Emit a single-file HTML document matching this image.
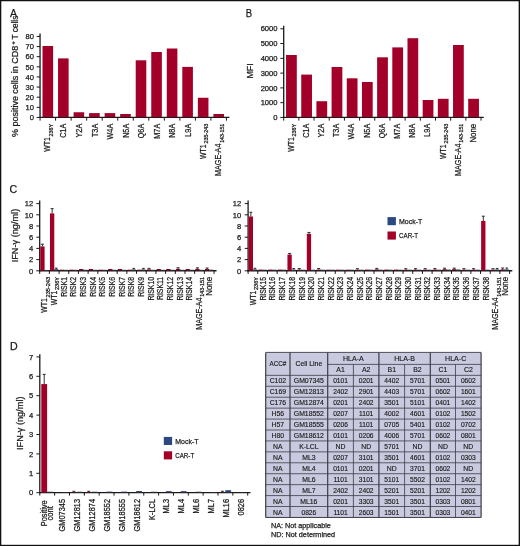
<!DOCTYPE html>
<html lang="en"><head><meta charset="utf-8"><title>Figure</title>
<style>
html,body{margin:0;padding:0;background:#fff;}
svg{display:block;font-family:"Liberation Sans",sans-serif;}
</style></head><body>
<svg width="520" height="546" viewBox="0 0 520 546">
<rect x="0" y="0" width="520" height="546" fill="#ffffff"/>
<rect x="0.00" y="0.00" width="520.00" height="1.25" fill="#111"/>
<rect x="0.00" y="0.00" width="1.30" height="546.00" fill="#111"/>
<rect x="518.65" y="0.00" width="1.35" height="546.00" fill="#111"/>
<rect x="0.00" y="544.80" width="520.00" height="1.20" fill="#111"/>
<text transform="translate(10.00,17.20)" font-size="11.2" text-anchor="start" textLength="7.10" lengthAdjust="spacingAndGlyphs" fill="#1a1a1a" stroke="#1a1a1a" stroke-width="0.25">A</text>
<line x1="40.05" y1="33.50" x2="40.05" y2="118.05" stroke="#1a1a1a" stroke-width="1.3"/>
<line x1="39.45" y1="117.45" x2="229.40" y2="117.45" stroke="#1a1a1a" stroke-width="1.2"/>
<line x1="36.65" y1="117.45" x2="40.05" y2="117.45" stroke="#1a1a1a" stroke-width="1.0"/>
<text transform="translate(33.90,120.15)" font-size="7.3" text-anchor="end" textLength="4.22" lengthAdjust="spacingAndGlyphs" fill="#1a1a1a" stroke="#1a1a1a" stroke-width="0.25">0</text>
<line x1="36.65" y1="107.33" x2="40.05" y2="107.33" stroke="#1a1a1a" stroke-width="1.0"/>
<text transform="translate(33.90,110.03)" font-size="7.3" text-anchor="end" textLength="8.44" lengthAdjust="spacingAndGlyphs" fill="#1a1a1a" stroke="#1a1a1a" stroke-width="0.25">10</text>
<line x1="36.65" y1="97.20" x2="40.05" y2="97.20" stroke="#1a1a1a" stroke-width="1.0"/>
<text transform="translate(33.90,99.90)" font-size="7.3" text-anchor="end" textLength="8.44" lengthAdjust="spacingAndGlyphs" fill="#1a1a1a" stroke="#1a1a1a" stroke-width="0.25">20</text>
<line x1="36.65" y1="87.08" x2="40.05" y2="87.08" stroke="#1a1a1a" stroke-width="1.0"/>
<text transform="translate(33.90,89.78)" font-size="7.3" text-anchor="end" textLength="8.44" lengthAdjust="spacingAndGlyphs" fill="#1a1a1a" stroke="#1a1a1a" stroke-width="0.25">30</text>
<line x1="36.65" y1="76.95" x2="40.05" y2="76.95" stroke="#1a1a1a" stroke-width="1.0"/>
<text transform="translate(33.90,79.65)" font-size="7.3" text-anchor="end" textLength="8.44" lengthAdjust="spacingAndGlyphs" fill="#1a1a1a" stroke="#1a1a1a" stroke-width="0.25">40</text>
<line x1="36.65" y1="66.83" x2="40.05" y2="66.83" stroke="#1a1a1a" stroke-width="1.0"/>
<text transform="translate(33.90,69.53)" font-size="7.3" text-anchor="end" textLength="8.44" lengthAdjust="spacingAndGlyphs" fill="#1a1a1a" stroke="#1a1a1a" stroke-width="0.25">50</text>
<line x1="36.65" y1="56.70" x2="40.05" y2="56.70" stroke="#1a1a1a" stroke-width="1.0"/>
<text transform="translate(33.90,59.40)" font-size="7.3" text-anchor="end" textLength="8.44" lengthAdjust="spacingAndGlyphs" fill="#1a1a1a" stroke="#1a1a1a" stroke-width="0.25">60</text>
<line x1="36.65" y1="46.58" x2="40.05" y2="46.58" stroke="#1a1a1a" stroke-width="1.0"/>
<text transform="translate(33.90,49.28)" font-size="7.3" text-anchor="end" textLength="8.44" lengthAdjust="spacingAndGlyphs" fill="#1a1a1a" stroke="#1a1a1a" stroke-width="0.25">70</text>
<line x1="36.65" y1="36.45" x2="40.05" y2="36.45" stroke="#1a1a1a" stroke-width="1.0"/>
<text transform="translate(33.90,39.15)" font-size="7.3" text-anchor="end" textLength="8.44" lengthAdjust="spacingAndGlyphs" fill="#1a1a1a" stroke="#1a1a1a" stroke-width="0.25">80</text>
<line x1="40.05" y1="117.45" x2="40.05" y2="120.65" stroke="#1a1a1a" stroke-width="1.0"/>
<line x1="55.58" y1="117.45" x2="55.58" y2="120.65" stroke="#1a1a1a" stroke-width="1.0"/>
<line x1="71.12" y1="117.45" x2="71.12" y2="120.65" stroke="#1a1a1a" stroke-width="1.0"/>
<line x1="86.66" y1="117.45" x2="86.66" y2="120.65" stroke="#1a1a1a" stroke-width="1.0"/>
<line x1="102.19" y1="117.45" x2="102.19" y2="120.65" stroke="#1a1a1a" stroke-width="1.0"/>
<line x1="117.72" y1="117.45" x2="117.72" y2="120.65" stroke="#1a1a1a" stroke-width="1.0"/>
<line x1="133.26" y1="117.45" x2="133.26" y2="120.65" stroke="#1a1a1a" stroke-width="1.0"/>
<line x1="148.80" y1="117.45" x2="148.80" y2="120.65" stroke="#1a1a1a" stroke-width="1.0"/>
<line x1="164.33" y1="117.45" x2="164.33" y2="120.65" stroke="#1a1a1a" stroke-width="1.0"/>
<line x1="179.87" y1="117.45" x2="179.87" y2="120.65" stroke="#1a1a1a" stroke-width="1.0"/>
<line x1="195.40" y1="117.45" x2="195.40" y2="120.65" stroke="#1a1a1a" stroke-width="1.0"/>
<line x1="210.94" y1="117.45" x2="210.94" y2="120.65" stroke="#1a1a1a" stroke-width="1.0"/>
<line x1="226.47" y1="117.45" x2="226.47" y2="120.65" stroke="#1a1a1a" stroke-width="1.0"/>
<rect x="42.50" y="46.00" width="10.60" height="71.05" fill="#a30029"/>
<text transform="translate(52.70,123.80) rotate(-90)" font-size="5.5" text-anchor="end" textLength="12.60" lengthAdjust="spacingAndGlyphs" fill="#1a1a1a" stroke="#1a1a1a" stroke-width="0.25">236Y</text>
<text transform="translate(50.40,137.20) rotate(-90)" font-size="8.6" text-anchor="end" textLength="14.52" lengthAdjust="spacingAndGlyphs" fill="#1a1a1a" stroke="#1a1a1a" stroke-width="0.25">WT1</text>
<rect x="58.03" y="58.40" width="10.60" height="58.65" fill="#a30029"/>
<text transform="translate(66.43,123.80) rotate(-90)" font-size="8.6" text-anchor="end" textLength="14.05" lengthAdjust="spacingAndGlyphs" fill="#1a1a1a" stroke="#1a1a1a" stroke-width="0.25">C1A</text>
<rect x="73.57" y="112.25" width="10.60" height="4.80" fill="#a30029"/>
<text transform="translate(81.97,123.80) rotate(-90)" font-size="8.6" text-anchor="end" textLength="13.65" lengthAdjust="spacingAndGlyphs" fill="#1a1a1a" stroke="#1a1a1a" stroke-width="0.25">Y2A</text>
<rect x="89.11" y="113.10" width="10.60" height="3.95" fill="#a30029"/>
<text transform="translate(97.50,123.80) rotate(-90)" font-size="8.6" text-anchor="end" textLength="13.25" lengthAdjust="spacingAndGlyphs" fill="#1a1a1a" stroke="#1a1a1a" stroke-width="0.25">T3A</text>
<rect x="104.64" y="113.10" width="10.60" height="3.95" fill="#a30029"/>
<text transform="translate(113.04,123.80) rotate(-90)" font-size="8.6" text-anchor="end" textLength="15.65" lengthAdjust="spacingAndGlyphs" fill="#1a1a1a" stroke="#1a1a1a" stroke-width="0.25">W4A</text>
<rect x="120.17" y="114.00" width="10.60" height="3.05" fill="#a30029"/>
<text transform="translate(128.57,123.80) rotate(-90)" font-size="8.6" text-anchor="end" textLength="14.05" lengthAdjust="spacingAndGlyphs" fill="#1a1a1a" stroke="#1a1a1a" stroke-width="0.25">N5A</text>
<rect x="135.71" y="60.30" width="10.60" height="56.75" fill="#a30029"/>
<text transform="translate(144.11,123.80) rotate(-90)" font-size="8.6" text-anchor="end" textLength="14.46" lengthAdjust="spacingAndGlyphs" fill="#1a1a1a" stroke="#1a1a1a" stroke-width="0.25">Q6A</text>
<rect x="151.25" y="52.00" width="10.60" height="65.05" fill="#a30029"/>
<text transform="translate(159.65,123.80) rotate(-90)" font-size="8.6" text-anchor="end" textLength="14.85" lengthAdjust="spacingAndGlyphs" fill="#1a1a1a" stroke="#1a1a1a" stroke-width="0.25">M7A</text>
<rect x="166.78" y="48.50" width="10.60" height="68.55" fill="#a30029"/>
<text transform="translate(175.18,123.80) rotate(-90)" font-size="8.6" text-anchor="end" textLength="14.05" lengthAdjust="spacingAndGlyphs" fill="#1a1a1a" stroke="#1a1a1a" stroke-width="0.25">N8A</text>
<rect x="182.31" y="66.90" width="10.60" height="50.15" fill="#a30029"/>
<text transform="translate(190.72,123.80) rotate(-90)" font-size="8.6" text-anchor="end" textLength="12.85" lengthAdjust="spacingAndGlyphs" fill="#1a1a1a" stroke="#1a1a1a" stroke-width="0.25">L9A</text>
<rect x="197.85" y="97.75" width="10.60" height="19.30" fill="#a30029"/>
<text transform="translate(208.05,123.80) rotate(-90)" font-size="5.5" text-anchor="end" textLength="19.80" lengthAdjust="spacingAndGlyphs" fill="#1a1a1a" stroke="#1a1a1a" stroke-width="0.25">235-243</text>
<text transform="translate(205.75,144.40) rotate(-90)" font-size="8.6" text-anchor="end" textLength="14.52" lengthAdjust="spacingAndGlyphs" fill="#1a1a1a" stroke="#1a1a1a" stroke-width="0.25">WT1</text>
<rect x="213.38" y="114.00" width="10.60" height="3.05" fill="#a30029"/>
<text transform="translate(223.59,123.80) rotate(-90)" font-size="5.5" text-anchor="end" textLength="19.00" lengthAdjust="spacingAndGlyphs" fill="#1a1a1a" stroke="#1a1a1a" stroke-width="0.25">143-151</text>
<text transform="translate(221.28,143.60) rotate(-90)" font-size="8.6" text-anchor="end" textLength="32.32" lengthAdjust="spacingAndGlyphs" fill="#1a1a1a" stroke="#1a1a1a" stroke-width="0.25">MAGE-A4</text>
<text transform="translate(18.10,137.00) rotate(-90)" font-size="8.7" text-anchor="start" textLength="91.20" lengthAdjust="spacingAndGlyphs" fill="#1a1a1a" stroke="#1a1a1a" stroke-width="0.25">% positive cells in CD8</text>
<text transform="translate(14.60,44.70) rotate(-90)" font-size="5.6" text-anchor="start" textLength="3.60" lengthAdjust="spacingAndGlyphs" fill="#1a1a1a" stroke="#1a1a1a" stroke-width="0.25">+</text>
<text transform="translate(18.10,39.40) rotate(-90)" font-size="8.7" text-anchor="start" textLength="23.70" lengthAdjust="spacingAndGlyphs" fill="#1a1a1a" stroke="#1a1a1a" stroke-width="0.25">T cells</text>
<text transform="translate(245.70,17.30)" font-size="11.2" text-anchor="start" textLength="6.35" lengthAdjust="spacingAndGlyphs" fill="#1a1a1a" stroke="#1a1a1a" stroke-width="0.25">B</text>
<line x1="283.70" y1="25.80" x2="283.70" y2="118.05" stroke="#1a1a1a" stroke-width="1.3"/>
<line x1="283.10" y1="117.45" x2="483.80" y2="117.45" stroke="#1a1a1a" stroke-width="1.2"/>
<line x1="280.30" y1="117.45" x2="283.70" y2="117.45" stroke="#1a1a1a" stroke-width="1.0"/>
<text transform="translate(277.50,120.15)" font-size="7.3" text-anchor="end" textLength="4.22" lengthAdjust="spacingAndGlyphs" fill="#1a1a1a" stroke="#1a1a1a" stroke-width="0.25">0</text>
<line x1="280.30" y1="102.67" x2="283.70" y2="102.67" stroke="#1a1a1a" stroke-width="1.0"/>
<text transform="translate(277.50,105.37)" font-size="7.3" text-anchor="end" textLength="16.89" lengthAdjust="spacingAndGlyphs" fill="#1a1a1a" stroke="#1a1a1a" stroke-width="0.25">1000</text>
<line x1="280.30" y1="87.89" x2="283.70" y2="87.89" stroke="#1a1a1a" stroke-width="1.0"/>
<text transform="translate(277.50,90.59)" font-size="7.3" text-anchor="end" textLength="16.89" lengthAdjust="spacingAndGlyphs" fill="#1a1a1a" stroke="#1a1a1a" stroke-width="0.25">2000</text>
<line x1="280.30" y1="73.11" x2="283.70" y2="73.11" stroke="#1a1a1a" stroke-width="1.0"/>
<text transform="translate(277.50,75.81)" font-size="7.3" text-anchor="end" textLength="16.89" lengthAdjust="spacingAndGlyphs" fill="#1a1a1a" stroke="#1a1a1a" stroke-width="0.25">3000</text>
<line x1="280.30" y1="58.33" x2="283.70" y2="58.33" stroke="#1a1a1a" stroke-width="1.0"/>
<text transform="translate(277.50,61.03)" font-size="7.3" text-anchor="end" textLength="16.89" lengthAdjust="spacingAndGlyphs" fill="#1a1a1a" stroke="#1a1a1a" stroke-width="0.25">4000</text>
<line x1="280.30" y1="43.55" x2="283.70" y2="43.55" stroke="#1a1a1a" stroke-width="1.0"/>
<text transform="translate(277.50,46.25)" font-size="7.3" text-anchor="end" textLength="16.89" lengthAdjust="spacingAndGlyphs" fill="#1a1a1a" stroke="#1a1a1a" stroke-width="0.25">5000</text>
<line x1="280.30" y1="28.77" x2="283.70" y2="28.77" stroke="#1a1a1a" stroke-width="1.0"/>
<text transform="translate(277.50,31.47)" font-size="7.3" text-anchor="end" textLength="16.89" lengthAdjust="spacingAndGlyphs" fill="#1a1a1a" stroke="#1a1a1a" stroke-width="0.25">6000</text>
<line x1="283.70" y1="117.45" x2="283.70" y2="120.65" stroke="#1a1a1a" stroke-width="1.0"/>
<line x1="298.88" y1="117.45" x2="298.88" y2="120.65" stroke="#1a1a1a" stroke-width="1.0"/>
<line x1="314.06" y1="117.45" x2="314.06" y2="120.65" stroke="#1a1a1a" stroke-width="1.0"/>
<line x1="329.24" y1="117.45" x2="329.24" y2="120.65" stroke="#1a1a1a" stroke-width="1.0"/>
<line x1="344.42" y1="117.45" x2="344.42" y2="120.65" stroke="#1a1a1a" stroke-width="1.0"/>
<line x1="359.60" y1="117.45" x2="359.60" y2="120.65" stroke="#1a1a1a" stroke-width="1.0"/>
<line x1="374.78" y1="117.45" x2="374.78" y2="120.65" stroke="#1a1a1a" stroke-width="1.0"/>
<line x1="389.96" y1="117.45" x2="389.96" y2="120.65" stroke="#1a1a1a" stroke-width="1.0"/>
<line x1="405.14" y1="117.45" x2="405.14" y2="120.65" stroke="#1a1a1a" stroke-width="1.0"/>
<line x1="420.32" y1="117.45" x2="420.32" y2="120.65" stroke="#1a1a1a" stroke-width="1.0"/>
<line x1="435.50" y1="117.45" x2="435.50" y2="120.65" stroke="#1a1a1a" stroke-width="1.0"/>
<line x1="450.68" y1="117.45" x2="450.68" y2="120.65" stroke="#1a1a1a" stroke-width="1.0"/>
<line x1="465.86" y1="117.45" x2="465.86" y2="120.65" stroke="#1a1a1a" stroke-width="1.0"/>
<line x1="481.04" y1="117.45" x2="481.04" y2="120.65" stroke="#1a1a1a" stroke-width="1.0"/>
<rect x="286.05" y="55.00" width="10.75" height="62.05" fill="#a30029"/>
<text transform="translate(296.05,123.80) rotate(-90)" font-size="5.5" text-anchor="end" textLength="12.60" lengthAdjust="spacingAndGlyphs" fill="#1a1a1a" stroke="#1a1a1a" stroke-width="0.25">236Y</text>
<text transform="translate(293.75,137.20) rotate(-90)" font-size="8.6" text-anchor="end" textLength="14.52" lengthAdjust="spacingAndGlyphs" fill="#1a1a1a" stroke="#1a1a1a" stroke-width="0.25">WT1</text>
<rect x="301.23" y="74.60" width="10.75" height="42.45" fill="#a30029"/>
<text transform="translate(308.93,123.80) rotate(-90)" font-size="8.6" text-anchor="end" textLength="14.05" lengthAdjust="spacingAndGlyphs" fill="#1a1a1a" stroke="#1a1a1a" stroke-width="0.25">C1A</text>
<rect x="316.41" y="101.20" width="10.75" height="15.85" fill="#a30029"/>
<text transform="translate(324.11,123.80) rotate(-90)" font-size="8.6" text-anchor="end" textLength="13.65" lengthAdjust="spacingAndGlyphs" fill="#1a1a1a" stroke="#1a1a1a" stroke-width="0.25">Y2A</text>
<rect x="331.59" y="67.00" width="10.75" height="50.05" fill="#a30029"/>
<text transform="translate(339.29,123.80) rotate(-90)" font-size="8.6" text-anchor="end" textLength="13.25" lengthAdjust="spacingAndGlyphs" fill="#1a1a1a" stroke="#1a1a1a" stroke-width="0.25">T3A</text>
<rect x="346.77" y="78.30" width="10.75" height="38.75" fill="#a30029"/>
<text transform="translate(354.47,123.80) rotate(-90)" font-size="8.6" text-anchor="end" textLength="15.65" lengthAdjust="spacingAndGlyphs" fill="#1a1a1a" stroke="#1a1a1a" stroke-width="0.25">W4A</text>
<rect x="361.95" y="82.00" width="10.75" height="35.05" fill="#a30029"/>
<text transform="translate(369.65,123.80) rotate(-90)" font-size="8.6" text-anchor="end" textLength="14.05" lengthAdjust="spacingAndGlyphs" fill="#1a1a1a" stroke="#1a1a1a" stroke-width="0.25">N5A</text>
<rect x="377.13" y="57.30" width="10.75" height="59.75" fill="#a30029"/>
<text transform="translate(384.83,123.80) rotate(-90)" font-size="8.6" text-anchor="end" textLength="14.46" lengthAdjust="spacingAndGlyphs" fill="#1a1a1a" stroke="#1a1a1a" stroke-width="0.25">Q6A</text>
<rect x="392.31" y="47.40" width="10.75" height="69.65" fill="#a30029"/>
<text transform="translate(400.01,123.80) rotate(-90)" font-size="8.6" text-anchor="end" textLength="14.85" lengthAdjust="spacingAndGlyphs" fill="#1a1a1a" stroke="#1a1a1a" stroke-width="0.25">M7A</text>
<rect x="407.49" y="38.20" width="10.75" height="78.85" fill="#a30029"/>
<text transform="translate(415.19,123.80) rotate(-90)" font-size="8.6" text-anchor="end" textLength="14.05" lengthAdjust="spacingAndGlyphs" fill="#1a1a1a" stroke="#1a1a1a" stroke-width="0.25">N8A</text>
<rect x="422.67" y="100.00" width="10.75" height="17.05" fill="#a30029"/>
<text transform="translate(430.37,123.80) rotate(-90)" font-size="8.6" text-anchor="end" textLength="12.85" lengthAdjust="spacingAndGlyphs" fill="#1a1a1a" stroke="#1a1a1a" stroke-width="0.25">L9A</text>
<rect x="437.85" y="98.80" width="10.75" height="18.25" fill="#a30029"/>
<text transform="translate(447.85,123.80) rotate(-90)" font-size="5.5" text-anchor="end" textLength="19.80" lengthAdjust="spacingAndGlyphs" fill="#1a1a1a" stroke="#1a1a1a" stroke-width="0.25">235-243</text>
<text transform="translate(445.55,144.40) rotate(-90)" font-size="8.6" text-anchor="end" textLength="14.52" lengthAdjust="spacingAndGlyphs" fill="#1a1a1a" stroke="#1a1a1a" stroke-width="0.25">WT1</text>
<rect x="453.03" y="45.00" width="10.75" height="72.05" fill="#a30029"/>
<text transform="translate(463.03,123.80) rotate(-90)" font-size="5.5" text-anchor="end" textLength="19.00" lengthAdjust="spacingAndGlyphs" fill="#1a1a1a" stroke="#1a1a1a" stroke-width="0.25">143-151</text>
<text transform="translate(460.73,143.60) rotate(-90)" font-size="8.6" text-anchor="end" textLength="32.32" lengthAdjust="spacingAndGlyphs" fill="#1a1a1a" stroke="#1a1a1a" stroke-width="0.25">MAGE-A4</text>
<rect x="468.21" y="98.80" width="10.75" height="18.25" fill="#a30029"/>
<text transform="translate(475.91,123.80) rotate(-90)" font-size="8.6" text-anchor="end" textLength="18.81" lengthAdjust="spacingAndGlyphs" fill="#1a1a1a" stroke="#1a1a1a" stroke-width="0.25">None</text>
<text transform="translate(253.40,71.00) rotate(-90)" font-size="8.7" text-anchor="middle" textLength="15.28" lengthAdjust="spacingAndGlyphs" fill="#1a1a1a" stroke="#1a1a1a" stroke-width="0.25">MFI</text>
<text transform="translate(9.40,193.20)" font-size="11.2" text-anchor="start" textLength="7.68" lengthAdjust="spacingAndGlyphs" fill="#1a1a1a" stroke="#1a1a1a" stroke-width="0.25">C</text>
<line x1="39.70" y1="200.50" x2="39.70" y2="271.40" stroke="#1a1a1a" stroke-width="1.3"/>
<line x1="39.10" y1="270.75" x2="216.50" y2="270.75" stroke="#1a1a1a" stroke-width="1.5"/>
<line x1="36.30" y1="270.80" x2="39.70" y2="270.80" stroke="#1a1a1a" stroke-width="1.0"/>
<text transform="translate(33.20,273.50)" font-size="7.3" text-anchor="end" textLength="4.22" lengthAdjust="spacingAndGlyphs" fill="#1a1a1a" stroke="#1a1a1a" stroke-width="0.25">0</text>
<line x1="36.30" y1="259.60" x2="39.70" y2="259.60" stroke="#1a1a1a" stroke-width="1.0"/>
<text transform="translate(33.20,262.30)" font-size="7.3" text-anchor="end" textLength="4.22" lengthAdjust="spacingAndGlyphs" fill="#1a1a1a" stroke="#1a1a1a" stroke-width="0.25">2</text>
<line x1="36.30" y1="248.40" x2="39.70" y2="248.40" stroke="#1a1a1a" stroke-width="1.0"/>
<text transform="translate(33.20,251.10)" font-size="7.3" text-anchor="end" textLength="4.22" lengthAdjust="spacingAndGlyphs" fill="#1a1a1a" stroke="#1a1a1a" stroke-width="0.25">4</text>
<line x1="36.30" y1="237.20" x2="39.70" y2="237.20" stroke="#1a1a1a" stroke-width="1.0"/>
<text transform="translate(33.20,239.90)" font-size="7.3" text-anchor="end" textLength="4.22" lengthAdjust="spacingAndGlyphs" fill="#1a1a1a" stroke="#1a1a1a" stroke-width="0.25">6</text>
<line x1="36.30" y1="226.00" x2="39.70" y2="226.00" stroke="#1a1a1a" stroke-width="1.0"/>
<text transform="translate(33.20,228.70)" font-size="7.3" text-anchor="end" textLength="4.22" lengthAdjust="spacingAndGlyphs" fill="#1a1a1a" stroke="#1a1a1a" stroke-width="0.25">8</text>
<line x1="36.30" y1="214.80" x2="39.70" y2="214.80" stroke="#1a1a1a" stroke-width="1.0"/>
<text transform="translate(33.20,217.50)" font-size="7.3" text-anchor="end" textLength="8.44" lengthAdjust="spacingAndGlyphs" fill="#1a1a1a" stroke="#1a1a1a" stroke-width="0.25">10</text>
<line x1="36.30" y1="203.60" x2="39.70" y2="203.60" stroke="#1a1a1a" stroke-width="1.0"/>
<text transform="translate(33.20,206.30)" font-size="7.3" text-anchor="end" textLength="8.44" lengthAdjust="spacingAndGlyphs" fill="#1a1a1a" stroke="#1a1a1a" stroke-width="0.25">12</text>
<line x1="39.70" y1="270.80" x2="39.70" y2="273.90" stroke="#1a1a1a" stroke-width="1.0"/>
<line x1="49.39" y1="270.80" x2="49.39" y2="273.90" stroke="#1a1a1a" stroke-width="1.0"/>
<line x1="59.07" y1="270.80" x2="59.07" y2="273.90" stroke="#1a1a1a" stroke-width="1.0"/>
<line x1="68.75" y1="270.80" x2="68.75" y2="273.90" stroke="#1a1a1a" stroke-width="1.0"/>
<line x1="78.44" y1="270.80" x2="78.44" y2="273.90" stroke="#1a1a1a" stroke-width="1.0"/>
<line x1="88.12" y1="270.80" x2="88.12" y2="273.90" stroke="#1a1a1a" stroke-width="1.0"/>
<line x1="97.81" y1="270.80" x2="97.81" y2="273.90" stroke="#1a1a1a" stroke-width="1.0"/>
<line x1="107.50" y1="270.80" x2="107.50" y2="273.90" stroke="#1a1a1a" stroke-width="1.0"/>
<line x1="117.18" y1="270.80" x2="117.18" y2="273.90" stroke="#1a1a1a" stroke-width="1.0"/>
<line x1="126.87" y1="270.80" x2="126.87" y2="273.90" stroke="#1a1a1a" stroke-width="1.0"/>
<line x1="136.55" y1="270.80" x2="136.55" y2="273.90" stroke="#1a1a1a" stroke-width="1.0"/>
<line x1="146.24" y1="270.80" x2="146.24" y2="273.90" stroke="#1a1a1a" stroke-width="1.0"/>
<line x1="155.92" y1="270.80" x2="155.92" y2="273.90" stroke="#1a1a1a" stroke-width="1.0"/>
<line x1="165.61" y1="270.80" x2="165.61" y2="273.90" stroke="#1a1a1a" stroke-width="1.0"/>
<line x1="175.29" y1="270.80" x2="175.29" y2="273.90" stroke="#1a1a1a" stroke-width="1.0"/>
<line x1="184.98" y1="270.80" x2="184.98" y2="273.90" stroke="#1a1a1a" stroke-width="1.0"/>
<line x1="194.66" y1="270.80" x2="194.66" y2="273.90" stroke="#1a1a1a" stroke-width="1.0"/>
<line x1="204.35" y1="270.80" x2="204.35" y2="273.90" stroke="#1a1a1a" stroke-width="1.0"/>
<line x1="214.03" y1="270.80" x2="214.03" y2="273.90" stroke="#1a1a1a" stroke-width="1.0"/>
<line x1="42.45" y1="244.20" x2="42.45" y2="246.44" stroke="#1a1a1a" stroke-width="0.9"/>
<line x1="40.95" y1="244.20" x2="43.95" y2="244.20" stroke="#1a1a1a" stroke-width="0.9"/>
<rect x="40.30" y="246.44" width="4.30" height="24.06" fill="#a30029"/>
<rect x="44.60" y="269.96" width="4.00" height="0.54" fill="#35425c"/>
<line x1="52.14" y1="208.64" x2="52.14" y2="213.40" stroke="#1a1a1a" stroke-width="0.9"/>
<line x1="50.64" y1="208.64" x2="53.64" y2="208.64" stroke="#1a1a1a" stroke-width="0.9"/>
<rect x="49.99" y="213.40" width="4.30" height="57.10" fill="#a30029"/>
<line x1="56.29" y1="268.11" x2="56.29" y2="269.12" stroke="#1a1a1a" stroke-width="0.9"/>
<line x1="54.99" y1="268.11" x2="57.59" y2="268.11" stroke="#1a1a1a" stroke-width="0.9"/>
<rect x="54.29" y="269.12" width="4.00" height="1.38" fill="#35425c"/>
<rect x="59.67" y="269.68" width="4.30" height="0.82" fill="#7d0a22"/>
<rect x="63.97" y="269.79" width="4.00" height="0.71" fill="#35425c"/>
<rect x="69.35" y="269.68" width="4.30" height="0.82" fill="#7d0a22"/>
<rect x="73.66" y="269.79" width="4.00" height="0.71" fill="#35425c"/>
<rect x="79.04" y="269.01" width="4.30" height="1.49" fill="#7d0a22"/>
<rect x="83.34" y="269.79" width="4.00" height="0.71" fill="#35425c"/>
<rect x="88.72" y="269.01" width="4.30" height="1.49" fill="#7d0a22"/>
<rect x="93.03" y="269.79" width="4.00" height="0.71" fill="#35425c"/>
<rect x="98.41" y="269.68" width="4.30" height="0.82" fill="#7d0a22"/>
<rect x="102.71" y="269.79" width="4.00" height="0.71" fill="#35425c"/>
<rect x="108.09" y="269.01" width="4.30" height="1.49" fill="#7d0a22"/>
<rect x="112.40" y="269.79" width="4.00" height="0.71" fill="#35425c"/>
<rect x="117.78" y="269.01" width="4.30" height="1.49" fill="#7d0a22"/>
<rect x="122.08" y="269.79" width="4.00" height="0.71" fill="#35425c"/>
<rect x="127.47" y="269.68" width="4.30" height="0.82" fill="#7d0a22"/>
<line x1="133.77" y1="268.39" x2="133.77" y2="269.40" stroke="#1a1a1a" stroke-width="0.9"/>
<line x1="132.47" y1="268.39" x2="135.07" y2="268.39" stroke="#1a1a1a" stroke-width="0.9"/>
<rect x="131.77" y="269.40" width="4.00" height="1.10" fill="#35425c"/>
<rect x="137.15" y="269.68" width="4.30" height="0.82" fill="#7d0a22"/>
<line x1="143.45" y1="268.39" x2="143.45" y2="269.40" stroke="#1a1a1a" stroke-width="0.9"/>
<line x1="142.15" y1="268.39" x2="144.75" y2="268.39" stroke="#1a1a1a" stroke-width="0.9"/>
<rect x="141.45" y="269.40" width="4.00" height="1.10" fill="#35425c"/>
<line x1="148.99" y1="268.39" x2="148.99" y2="269.40" stroke="#1a1a1a" stroke-width="0.9"/>
<line x1="147.49" y1="268.39" x2="150.49" y2="268.39" stroke="#1a1a1a" stroke-width="0.9"/>
<rect x="146.84" y="269.40" width="4.30" height="1.10" fill="#7d0a22"/>
<rect x="151.14" y="269.79" width="4.00" height="0.71" fill="#35425c"/>
<rect x="156.52" y="269.01" width="4.30" height="1.49" fill="#7d0a22"/>
<rect x="160.82" y="269.79" width="4.00" height="0.71" fill="#35425c"/>
<rect x="166.21" y="269.01" width="4.30" height="1.49" fill="#7d0a22"/>
<rect x="170.51" y="269.79" width="4.00" height="0.71" fill="#35425c"/>
<line x1="178.04" y1="267.72" x2="178.04" y2="268.84" stroke="#1a1a1a" stroke-width="0.9"/>
<line x1="176.54" y1="267.72" x2="179.54" y2="267.72" stroke="#1a1a1a" stroke-width="0.9"/>
<rect x="175.89" y="268.84" width="4.30" height="1.66" fill="#7d0a22"/>
<rect x="180.19" y="269.79" width="4.00" height="0.71" fill="#35425c"/>
<rect x="185.58" y="269.01" width="4.30" height="1.49" fill="#7d0a22"/>
<rect x="189.88" y="269.79" width="4.00" height="0.71" fill="#35425c"/>
<line x1="197.41" y1="267.83" x2="197.41" y2="268.84" stroke="#1a1a1a" stroke-width="0.9"/>
<line x1="195.91" y1="267.83" x2="198.91" y2="267.83" stroke="#1a1a1a" stroke-width="0.9"/>
<rect x="195.26" y="268.84" width="4.30" height="1.66" fill="#7d0a22"/>
<rect x="199.56" y="269.79" width="4.00" height="0.71" fill="#35425c"/>
<line x1="207.10" y1="268.00" x2="207.10" y2="269.01" stroke="#1a1a1a" stroke-width="0.9"/>
<line x1="205.60" y1="268.00" x2="208.60" y2="268.00" stroke="#1a1a1a" stroke-width="0.9"/>
<rect x="204.95" y="269.01" width="4.30" height="1.49" fill="#7d0a22"/>
<rect x="209.25" y="269.68" width="4.00" height="0.82" fill="#35425c"/>
<text transform="translate(49.50,276.90) rotate(-90)" font-size="5.5" text-anchor="end" textLength="20.59" lengthAdjust="spacingAndGlyphs" fill="#1a1a1a" stroke="#1a1a1a" stroke-width="0.25">235-243</text>
<text transform="translate(47.20,298.29) rotate(-90)" font-size="8.6" text-anchor="end" textLength="14.52" lengthAdjust="spacingAndGlyphs" fill="#1a1a1a" stroke="#1a1a1a" stroke-width="0.25">WT1</text>
<text transform="translate(59.19,276.90) rotate(-90)" font-size="5.5" text-anchor="end" textLength="13.10" lengthAdjust="spacingAndGlyphs" fill="#1a1a1a" stroke="#1a1a1a" stroke-width="0.25">236Y</text>
<text transform="translate(56.89,290.80) rotate(-90)" font-size="8.6" text-anchor="end" textLength="14.52" lengthAdjust="spacingAndGlyphs" fill="#1a1a1a" stroke="#1a1a1a" stroke-width="0.25">WT1</text>
<text transform="translate(66.57,276.90) rotate(-90)" font-size="8.6" text-anchor="end" textLength="19.88" lengthAdjust="spacingAndGlyphs" fill="#1a1a1a" stroke="#1a1a1a" stroke-width="0.25">RISK1</text>
<text transform="translate(76.25,276.90) rotate(-90)" font-size="8.6" text-anchor="end" textLength="19.88" lengthAdjust="spacingAndGlyphs" fill="#1a1a1a" stroke="#1a1a1a" stroke-width="0.25">RISK2</text>
<text transform="translate(85.94,276.90) rotate(-90)" font-size="8.6" text-anchor="end" textLength="19.88" lengthAdjust="spacingAndGlyphs" fill="#1a1a1a" stroke="#1a1a1a" stroke-width="0.25">RISK3</text>
<text transform="translate(95.62,276.90) rotate(-90)" font-size="8.6" text-anchor="end" textLength="19.88" lengthAdjust="spacingAndGlyphs" fill="#1a1a1a" stroke="#1a1a1a" stroke-width="0.25">RISK4</text>
<text transform="translate(105.31,276.90) rotate(-90)" font-size="8.6" text-anchor="end" textLength="19.88" lengthAdjust="spacingAndGlyphs" fill="#1a1a1a" stroke="#1a1a1a" stroke-width="0.25">RISK5</text>
<text transform="translate(115.00,276.90) rotate(-90)" font-size="8.6" text-anchor="end" textLength="19.88" lengthAdjust="spacingAndGlyphs" fill="#1a1a1a" stroke="#1a1a1a" stroke-width="0.25">RISK6</text>
<text transform="translate(124.68,276.90) rotate(-90)" font-size="8.6" text-anchor="end" textLength="19.88" lengthAdjust="spacingAndGlyphs" fill="#1a1a1a" stroke="#1a1a1a" stroke-width="0.25">RISK7</text>
<text transform="translate(134.37,276.90) rotate(-90)" font-size="8.6" text-anchor="end" textLength="19.88" lengthAdjust="spacingAndGlyphs" fill="#1a1a1a" stroke="#1a1a1a" stroke-width="0.25">RISK8</text>
<text transform="translate(144.05,276.90) rotate(-90)" font-size="8.6" text-anchor="end" textLength="19.88" lengthAdjust="spacingAndGlyphs" fill="#1a1a1a" stroke="#1a1a1a" stroke-width="0.25">RISK9</text>
<text transform="translate(153.74,276.90) rotate(-90)" font-size="8.6" text-anchor="end" textLength="23.71" lengthAdjust="spacingAndGlyphs" fill="#1a1a1a" stroke="#1a1a1a" stroke-width="0.25">RISK10</text>
<text transform="translate(163.42,276.90) rotate(-90)" font-size="8.6" text-anchor="end" textLength="23.20" lengthAdjust="spacingAndGlyphs" fill="#1a1a1a" stroke="#1a1a1a" stroke-width="0.25">RISK11</text>
<text transform="translate(173.11,276.90) rotate(-90)" font-size="8.6" text-anchor="end" textLength="23.71" lengthAdjust="spacingAndGlyphs" fill="#1a1a1a" stroke="#1a1a1a" stroke-width="0.25">RISK12</text>
<text transform="translate(182.79,276.90) rotate(-90)" font-size="8.6" text-anchor="end" textLength="23.71" lengthAdjust="spacingAndGlyphs" fill="#1a1a1a" stroke="#1a1a1a" stroke-width="0.25">RISK13</text>
<text transform="translate(192.48,276.90) rotate(-90)" font-size="8.6" text-anchor="end" textLength="23.71" lengthAdjust="spacingAndGlyphs" fill="#1a1a1a" stroke="#1a1a1a" stroke-width="0.25">RISK14</text>
<text transform="translate(204.46,276.90) rotate(-90)" font-size="5.5" text-anchor="end" textLength="19.76" lengthAdjust="spacingAndGlyphs" fill="#1a1a1a" stroke="#1a1a1a" stroke-width="0.25">143-151</text>
<text transform="translate(202.16,297.46) rotate(-90)" font-size="8.6" text-anchor="end" textLength="32.32" lengthAdjust="spacingAndGlyphs" fill="#1a1a1a" stroke="#1a1a1a" stroke-width="0.25">MAGE-A4</text>
<text transform="translate(211.85,276.90) rotate(-90)" font-size="8.6" text-anchor="end" textLength="18.81" lengthAdjust="spacingAndGlyphs" fill="#1a1a1a" stroke="#1a1a1a" stroke-width="0.25">None</text>
<text transform="translate(17.80,262.30) rotate(-90)" font-size="8.7" text-anchor="start" textLength="53.50" lengthAdjust="spacingAndGlyphs" fill="#1a1a1a" stroke="#1a1a1a" stroke-width="0.25">IFN-γ (ng/ml)</text>
<line x1="248.10" y1="200.50" x2="248.10" y2="271.40" stroke="#1a1a1a" stroke-width="1.3"/>
<line x1="247.50" y1="270.75" x2="512.30" y2="270.75" stroke="#1a1a1a" stroke-width="1.5"/>
<line x1="244.70" y1="270.80" x2="248.10" y2="270.80" stroke="#1a1a1a" stroke-width="1.0"/>
<text transform="translate(241.30,273.50)" font-size="7.3" text-anchor="end" textLength="4.22" lengthAdjust="spacingAndGlyphs" fill="#1a1a1a" stroke="#1a1a1a" stroke-width="0.25">0</text>
<line x1="244.70" y1="259.60" x2="248.10" y2="259.60" stroke="#1a1a1a" stroke-width="1.0"/>
<text transform="translate(241.30,262.30)" font-size="7.3" text-anchor="end" textLength="4.22" lengthAdjust="spacingAndGlyphs" fill="#1a1a1a" stroke="#1a1a1a" stroke-width="0.25">2</text>
<line x1="244.70" y1="248.40" x2="248.10" y2="248.40" stroke="#1a1a1a" stroke-width="1.0"/>
<text transform="translate(241.30,251.10)" font-size="7.3" text-anchor="end" textLength="4.22" lengthAdjust="spacingAndGlyphs" fill="#1a1a1a" stroke="#1a1a1a" stroke-width="0.25">4</text>
<line x1="244.70" y1="237.20" x2="248.10" y2="237.20" stroke="#1a1a1a" stroke-width="1.0"/>
<text transform="translate(241.30,239.90)" font-size="7.3" text-anchor="end" textLength="4.22" lengthAdjust="spacingAndGlyphs" fill="#1a1a1a" stroke="#1a1a1a" stroke-width="0.25">6</text>
<line x1="244.70" y1="226.00" x2="248.10" y2="226.00" stroke="#1a1a1a" stroke-width="1.0"/>
<text transform="translate(241.30,228.70)" font-size="7.3" text-anchor="end" textLength="4.22" lengthAdjust="spacingAndGlyphs" fill="#1a1a1a" stroke="#1a1a1a" stroke-width="0.25">8</text>
<line x1="244.70" y1="214.80" x2="248.10" y2="214.80" stroke="#1a1a1a" stroke-width="1.0"/>
<text transform="translate(241.30,217.50)" font-size="7.3" text-anchor="end" textLength="8.44" lengthAdjust="spacingAndGlyphs" fill="#1a1a1a" stroke="#1a1a1a" stroke-width="0.25">10</text>
<line x1="244.70" y1="203.60" x2="248.10" y2="203.60" stroke="#1a1a1a" stroke-width="1.0"/>
<text transform="translate(241.30,206.30)" font-size="7.3" text-anchor="end" textLength="8.44" lengthAdjust="spacingAndGlyphs" fill="#1a1a1a" stroke="#1a1a1a" stroke-width="0.25">12</text>
<line x1="248.10" y1="270.80" x2="248.10" y2="273.90" stroke="#1a1a1a" stroke-width="1.0"/>
<line x1="257.78" y1="270.80" x2="257.78" y2="273.90" stroke="#1a1a1a" stroke-width="1.0"/>
<line x1="267.47" y1="270.80" x2="267.47" y2="273.90" stroke="#1a1a1a" stroke-width="1.0"/>
<line x1="277.15" y1="270.80" x2="277.15" y2="273.90" stroke="#1a1a1a" stroke-width="1.0"/>
<line x1="286.84" y1="270.80" x2="286.84" y2="273.90" stroke="#1a1a1a" stroke-width="1.0"/>
<line x1="296.52" y1="270.80" x2="296.52" y2="273.90" stroke="#1a1a1a" stroke-width="1.0"/>
<line x1="306.21" y1="270.80" x2="306.21" y2="273.90" stroke="#1a1a1a" stroke-width="1.0"/>
<line x1="315.89" y1="270.80" x2="315.89" y2="273.90" stroke="#1a1a1a" stroke-width="1.0"/>
<line x1="325.58" y1="270.80" x2="325.58" y2="273.90" stroke="#1a1a1a" stroke-width="1.0"/>
<line x1="335.26" y1="270.80" x2="335.26" y2="273.90" stroke="#1a1a1a" stroke-width="1.0"/>
<line x1="344.95" y1="270.80" x2="344.95" y2="273.90" stroke="#1a1a1a" stroke-width="1.0"/>
<line x1="354.63" y1="270.80" x2="354.63" y2="273.90" stroke="#1a1a1a" stroke-width="1.0"/>
<line x1="364.32" y1="270.80" x2="364.32" y2="273.90" stroke="#1a1a1a" stroke-width="1.0"/>
<line x1="374.00" y1="270.80" x2="374.00" y2="273.90" stroke="#1a1a1a" stroke-width="1.0"/>
<line x1="383.69" y1="270.80" x2="383.69" y2="273.90" stroke="#1a1a1a" stroke-width="1.0"/>
<line x1="393.38" y1="270.80" x2="393.38" y2="273.90" stroke="#1a1a1a" stroke-width="1.0"/>
<line x1="403.06" y1="270.80" x2="403.06" y2="273.90" stroke="#1a1a1a" stroke-width="1.0"/>
<line x1="412.75" y1="270.80" x2="412.75" y2="273.90" stroke="#1a1a1a" stroke-width="1.0"/>
<line x1="422.43" y1="270.80" x2="422.43" y2="273.90" stroke="#1a1a1a" stroke-width="1.0"/>
<line x1="432.12" y1="270.80" x2="432.12" y2="273.90" stroke="#1a1a1a" stroke-width="1.0"/>
<line x1="441.80" y1="270.80" x2="441.80" y2="273.90" stroke="#1a1a1a" stroke-width="1.0"/>
<line x1="451.49" y1="270.80" x2="451.49" y2="273.90" stroke="#1a1a1a" stroke-width="1.0"/>
<line x1="461.17" y1="270.80" x2="461.17" y2="273.90" stroke="#1a1a1a" stroke-width="1.0"/>
<line x1="470.86" y1="270.80" x2="470.86" y2="273.90" stroke="#1a1a1a" stroke-width="1.0"/>
<line x1="480.54" y1="270.80" x2="480.54" y2="273.90" stroke="#1a1a1a" stroke-width="1.0"/>
<line x1="490.23" y1="270.80" x2="490.23" y2="273.90" stroke="#1a1a1a" stroke-width="1.0"/>
<line x1="499.91" y1="270.80" x2="499.91" y2="273.90" stroke="#1a1a1a" stroke-width="1.0"/>
<line x1="509.60" y1="270.80" x2="509.60" y2="273.90" stroke="#1a1a1a" stroke-width="1.0"/>
<line x1="250.85" y1="212.28" x2="250.85" y2="216.48" stroke="#1a1a1a" stroke-width="0.9"/>
<line x1="249.35" y1="212.28" x2="252.35" y2="212.28" stroke="#1a1a1a" stroke-width="0.9"/>
<rect x="248.70" y="216.48" width="4.30" height="54.02" fill="#a30029"/>
<line x1="255.00" y1="268.28" x2="255.00" y2="269.40" stroke="#1a1a1a" stroke-width="0.9"/>
<line x1="253.70" y1="268.28" x2="256.30" y2="268.28" stroke="#1a1a1a" stroke-width="0.9"/>
<rect x="253.00" y="269.40" width="4.00" height="1.10" fill="#35425c"/>
<rect x="258.38" y="269.57" width="4.30" height="0.93" fill="#7d0a22"/>
<rect x="262.68" y="269.68" width="4.00" height="0.82" fill="#35425c"/>
<rect x="268.07" y="269.57" width="4.30" height="0.93" fill="#7d0a22"/>
<rect x="272.37" y="269.68" width="4.00" height="0.82" fill="#35425c"/>
<rect x="277.75" y="269.57" width="4.30" height="0.93" fill="#7d0a22"/>
<rect x="282.05" y="269.68" width="4.00" height="0.82" fill="#35425c"/>
<line x1="289.59" y1="253.44" x2="289.59" y2="254.56" stroke="#1a1a1a" stroke-width="0.9"/>
<line x1="288.09" y1="253.44" x2="291.09" y2="253.44" stroke="#1a1a1a" stroke-width="0.9"/>
<rect x="287.44" y="254.56" width="4.30" height="15.94" fill="#a30029"/>
<line x1="293.74" y1="268.56" x2="293.74" y2="269.57" stroke="#1a1a1a" stroke-width="0.9"/>
<line x1="292.44" y1="268.56" x2="295.04" y2="268.56" stroke="#1a1a1a" stroke-width="0.9"/>
<rect x="291.74" y="269.57" width="4.00" height="0.93" fill="#35425c"/>
<line x1="299.27" y1="268.56" x2="299.27" y2="269.57" stroke="#1a1a1a" stroke-width="0.9"/>
<line x1="297.77" y1="268.56" x2="300.77" y2="268.56" stroke="#1a1a1a" stroke-width="0.9"/>
<rect x="297.12" y="269.57" width="4.30" height="0.93" fill="#7d0a22"/>
<rect x="301.42" y="269.68" width="4.00" height="0.82" fill="#35425c"/>
<line x1="308.96" y1="232.44" x2="308.96" y2="233.84" stroke="#1a1a1a" stroke-width="0.9"/>
<line x1="307.46" y1="232.44" x2="310.46" y2="232.44" stroke="#1a1a1a" stroke-width="0.9"/>
<rect x="306.81" y="233.84" width="4.30" height="36.66" fill="#a30029"/>
<rect x="311.11" y="269.68" width="4.00" height="0.82" fill="#35425c"/>
<line x1="318.64" y1="268.56" x2="318.64" y2="269.57" stroke="#1a1a1a" stroke-width="0.9"/>
<line x1="317.14" y1="268.56" x2="320.14" y2="268.56" stroke="#1a1a1a" stroke-width="0.9"/>
<rect x="316.50" y="269.57" width="4.30" height="0.93" fill="#7d0a22"/>
<rect x="320.79" y="269.68" width="4.00" height="0.82" fill="#35425c"/>
<rect x="326.18" y="269.68" width="4.30" height="0.82" fill="#7d0a22"/>
<rect x="330.48" y="269.68" width="4.00" height="0.82" fill="#35425c"/>
<rect x="335.87" y="269.68" width="4.30" height="0.82" fill="#7d0a22"/>
<rect x="340.16" y="269.68" width="4.00" height="0.82" fill="#35425c"/>
<rect x="345.55" y="269.68" width="4.30" height="0.82" fill="#7d0a22"/>
<rect x="349.85" y="269.68" width="4.00" height="0.82" fill="#35425c"/>
<line x1="357.38" y1="268.67" x2="357.38" y2="269.68" stroke="#1a1a1a" stroke-width="0.9"/>
<line x1="355.88" y1="268.67" x2="358.88" y2="268.67" stroke="#1a1a1a" stroke-width="0.9"/>
<rect x="355.24" y="269.68" width="4.30" height="0.82" fill="#7d0a22"/>
<rect x="359.53" y="269.68" width="4.00" height="0.82" fill="#35425c"/>
<rect x="364.92" y="269.57" width="4.30" height="0.93" fill="#7d0a22"/>
<rect x="369.22" y="269.68" width="4.00" height="0.82" fill="#35425c"/>
<line x1="376.75" y1="268.39" x2="376.75" y2="269.40" stroke="#1a1a1a" stroke-width="0.9"/>
<line x1="375.25" y1="268.39" x2="378.25" y2="268.39" stroke="#1a1a1a" stroke-width="0.9"/>
<rect x="374.61" y="269.40" width="4.30" height="1.10" fill="#7d0a22"/>
<rect x="378.90" y="269.68" width="4.00" height="0.82" fill="#35425c"/>
<rect x="384.29" y="269.57" width="4.30" height="0.93" fill="#7d0a22"/>
<rect x="388.59" y="269.68" width="4.00" height="0.82" fill="#35425c"/>
<rect x="393.98" y="269.57" width="4.30" height="0.93" fill="#7d0a22"/>
<rect x="398.27" y="269.68" width="4.00" height="0.82" fill="#35425c"/>
<line x1="405.81" y1="268.67" x2="405.81" y2="269.68" stroke="#1a1a1a" stroke-width="0.9"/>
<line x1="404.31" y1="268.67" x2="407.31" y2="268.67" stroke="#1a1a1a" stroke-width="0.9"/>
<rect x="403.66" y="269.68" width="4.30" height="0.82" fill="#7d0a22"/>
<rect x="407.96" y="269.68" width="4.00" height="0.82" fill="#35425c"/>
<line x1="415.50" y1="268.67" x2="415.50" y2="269.68" stroke="#1a1a1a" stroke-width="0.9"/>
<line x1="414.00" y1="268.67" x2="417.00" y2="268.67" stroke="#1a1a1a" stroke-width="0.9"/>
<rect x="413.35" y="269.68" width="4.30" height="0.82" fill="#7d0a22"/>
<rect x="417.64" y="269.68" width="4.00" height="0.82" fill="#35425c"/>
<line x1="425.18" y1="268.67" x2="425.18" y2="269.68" stroke="#1a1a1a" stroke-width="0.9"/>
<line x1="423.68" y1="268.67" x2="426.68" y2="268.67" stroke="#1a1a1a" stroke-width="0.9"/>
<rect x="423.03" y="269.68" width="4.30" height="0.82" fill="#7d0a22"/>
<rect x="427.33" y="269.68" width="4.00" height="0.82" fill="#35425c"/>
<line x1="434.87" y1="268.56" x2="434.87" y2="269.57" stroke="#1a1a1a" stroke-width="0.9"/>
<line x1="433.37" y1="268.56" x2="436.37" y2="268.56" stroke="#1a1a1a" stroke-width="0.9"/>
<rect x="432.72" y="269.57" width="4.30" height="0.93" fill="#7d0a22"/>
<rect x="437.01" y="269.68" width="4.00" height="0.82" fill="#35425c"/>
<line x1="444.55" y1="268.22" x2="444.55" y2="269.23" stroke="#1a1a1a" stroke-width="0.9"/>
<line x1="443.05" y1="268.22" x2="446.05" y2="268.22" stroke="#1a1a1a" stroke-width="0.9"/>
<rect x="442.40" y="269.23" width="4.30" height="1.27" fill="#7d0a22"/>
<rect x="446.70" y="269.57" width="4.00" height="0.93" fill="#35425c"/>
<line x1="454.24" y1="268.11" x2="454.24" y2="269.12" stroke="#1a1a1a" stroke-width="0.9"/>
<line x1="452.74" y1="268.11" x2="455.74" y2="268.11" stroke="#1a1a1a" stroke-width="0.9"/>
<rect x="452.09" y="269.12" width="4.30" height="1.38" fill="#7d0a22"/>
<rect x="456.38" y="269.46" width="4.00" height="1.04" fill="#35425c"/>
<line x1="463.92" y1="268.67" x2="463.92" y2="269.68" stroke="#1a1a1a" stroke-width="0.9"/>
<line x1="462.42" y1="268.67" x2="465.42" y2="268.67" stroke="#1a1a1a" stroke-width="0.9"/>
<rect x="461.77" y="269.68" width="4.30" height="0.82" fill="#7d0a22"/>
<rect x="466.07" y="269.68" width="4.00" height="0.82" fill="#35425c"/>
<line x1="473.61" y1="268.67" x2="473.61" y2="269.68" stroke="#1a1a1a" stroke-width="0.9"/>
<line x1="472.11" y1="268.67" x2="475.11" y2="268.67" stroke="#1a1a1a" stroke-width="0.9"/>
<rect x="471.46" y="269.68" width="4.30" height="0.82" fill="#7d0a22"/>
<rect x="475.75" y="269.68" width="4.00" height="0.82" fill="#35425c"/>
<line x1="483.29" y1="216.20" x2="483.29" y2="220.96" stroke="#1a1a1a" stroke-width="0.9"/>
<line x1="481.79" y1="216.20" x2="484.79" y2="216.20" stroke="#1a1a1a" stroke-width="0.9"/>
<rect x="481.14" y="220.96" width="4.30" height="49.54" fill="#a30029"/>
<rect x="485.44" y="269.68" width="4.00" height="0.82" fill="#35425c"/>
<line x1="492.98" y1="268.67" x2="492.98" y2="269.68" stroke="#1a1a1a" stroke-width="0.9"/>
<line x1="491.48" y1="268.67" x2="494.48" y2="268.67" stroke="#1a1a1a" stroke-width="0.9"/>
<rect x="490.83" y="269.68" width="4.30" height="0.82" fill="#7d0a22"/>
<line x1="497.12" y1="268.45" x2="497.12" y2="269.46" stroke="#1a1a1a" stroke-width="0.9"/>
<line x1="495.82" y1="268.45" x2="498.43" y2="268.45" stroke="#1a1a1a" stroke-width="0.9"/>
<rect x="495.12" y="269.46" width="4.00" height="1.04" fill="#35425c"/>
<line x1="502.66" y1="268.00" x2="502.66" y2="269.40" stroke="#1a1a1a" stroke-width="0.9"/>
<line x1="501.16" y1="268.00" x2="504.16" y2="268.00" stroke="#1a1a1a" stroke-width="0.9"/>
<rect x="500.51" y="269.40" width="4.30" height="1.10" fill="#7d0a22"/>
<line x1="506.81" y1="268.00" x2="506.81" y2="269.40" stroke="#1a1a1a" stroke-width="0.9"/>
<line x1="505.51" y1="268.00" x2="508.11" y2="268.00" stroke="#1a1a1a" stroke-width="0.9"/>
<rect x="504.81" y="269.40" width="4.00" height="1.10" fill="#35425c"/>
<text transform="translate(258.40,276.90) rotate(-90)" font-size="5.5" text-anchor="end" textLength="13.10" lengthAdjust="spacingAndGlyphs" fill="#1a1a1a" stroke="#1a1a1a" stroke-width="0.25">236Y</text>
<text transform="translate(256.10,290.80) rotate(-90)" font-size="8.6" text-anchor="end" textLength="14.52" lengthAdjust="spacingAndGlyphs" fill="#1a1a1a" stroke="#1a1a1a" stroke-width="0.25">WT1</text>
<text transform="translate(265.78,276.90) rotate(-90)" font-size="8.6" text-anchor="end" textLength="23.71" lengthAdjust="spacingAndGlyphs" fill="#1a1a1a" stroke="#1a1a1a" stroke-width="0.25">RISK15</text>
<text transform="translate(275.47,276.90) rotate(-90)" font-size="8.6" text-anchor="end" textLength="23.71" lengthAdjust="spacingAndGlyphs" fill="#1a1a1a" stroke="#1a1a1a" stroke-width="0.25">RISK16</text>
<text transform="translate(285.15,276.90) rotate(-90)" font-size="8.6" text-anchor="end" textLength="23.71" lengthAdjust="spacingAndGlyphs" fill="#1a1a1a" stroke="#1a1a1a" stroke-width="0.25">RISK17</text>
<text transform="translate(294.84,276.90) rotate(-90)" font-size="8.6" text-anchor="end" textLength="23.71" lengthAdjust="spacingAndGlyphs" fill="#1a1a1a" stroke="#1a1a1a" stroke-width="0.25">RISK18</text>
<text transform="translate(304.52,276.90) rotate(-90)" font-size="8.6" text-anchor="end" textLength="23.71" lengthAdjust="spacingAndGlyphs" fill="#1a1a1a" stroke="#1a1a1a" stroke-width="0.25">RISK19</text>
<text transform="translate(314.21,276.90) rotate(-90)" font-size="8.6" text-anchor="end" textLength="23.71" lengthAdjust="spacingAndGlyphs" fill="#1a1a1a" stroke="#1a1a1a" stroke-width="0.25">RISK20</text>
<text transform="translate(323.89,276.90) rotate(-90)" font-size="8.6" text-anchor="end" textLength="23.71" lengthAdjust="spacingAndGlyphs" fill="#1a1a1a" stroke="#1a1a1a" stroke-width="0.25">RISK21</text>
<text transform="translate(333.58,276.90) rotate(-90)" font-size="8.6" text-anchor="end" textLength="23.71" lengthAdjust="spacingAndGlyphs" fill="#1a1a1a" stroke="#1a1a1a" stroke-width="0.25">RISK22</text>
<text transform="translate(343.26,276.90) rotate(-90)" font-size="8.6" text-anchor="end" textLength="23.71" lengthAdjust="spacingAndGlyphs" fill="#1a1a1a" stroke="#1a1a1a" stroke-width="0.25">RISK23</text>
<text transform="translate(352.95,276.90) rotate(-90)" font-size="8.6" text-anchor="end" textLength="23.71" lengthAdjust="spacingAndGlyphs" fill="#1a1a1a" stroke="#1a1a1a" stroke-width="0.25">RISK24</text>
<text transform="translate(362.63,276.90) rotate(-90)" font-size="8.6" text-anchor="end" textLength="23.71" lengthAdjust="spacingAndGlyphs" fill="#1a1a1a" stroke="#1a1a1a" stroke-width="0.25">RISK25</text>
<text transform="translate(372.32,276.90) rotate(-90)" font-size="8.6" text-anchor="end" textLength="23.71" lengthAdjust="spacingAndGlyphs" fill="#1a1a1a" stroke="#1a1a1a" stroke-width="0.25">RISK26</text>
<text transform="translate(382.00,276.90) rotate(-90)" font-size="8.6" text-anchor="end" textLength="23.71" lengthAdjust="spacingAndGlyphs" fill="#1a1a1a" stroke="#1a1a1a" stroke-width="0.25">RISK27</text>
<text transform="translate(391.69,276.90) rotate(-90)" font-size="8.6" text-anchor="end" textLength="23.71" lengthAdjust="spacingAndGlyphs" fill="#1a1a1a" stroke="#1a1a1a" stroke-width="0.25">RISK28</text>
<text transform="translate(401.38,276.90) rotate(-90)" font-size="8.6" text-anchor="end" textLength="23.71" lengthAdjust="spacingAndGlyphs" fill="#1a1a1a" stroke="#1a1a1a" stroke-width="0.25">RISK29</text>
<text transform="translate(411.06,276.90) rotate(-90)" font-size="8.6" text-anchor="end" textLength="23.71" lengthAdjust="spacingAndGlyphs" fill="#1a1a1a" stroke="#1a1a1a" stroke-width="0.25">RISK30</text>
<text transform="translate(420.75,276.90) rotate(-90)" font-size="8.6" text-anchor="end" textLength="23.71" lengthAdjust="spacingAndGlyphs" fill="#1a1a1a" stroke="#1a1a1a" stroke-width="0.25">RISK31</text>
<text transform="translate(430.43,276.90) rotate(-90)" font-size="8.6" text-anchor="end" textLength="23.71" lengthAdjust="spacingAndGlyphs" fill="#1a1a1a" stroke="#1a1a1a" stroke-width="0.25">RISK32</text>
<text transform="translate(440.12,276.90) rotate(-90)" font-size="8.6" text-anchor="end" textLength="23.71" lengthAdjust="spacingAndGlyphs" fill="#1a1a1a" stroke="#1a1a1a" stroke-width="0.25">RISK33</text>
<text transform="translate(449.80,276.90) rotate(-90)" font-size="8.6" text-anchor="end" textLength="23.71" lengthAdjust="spacingAndGlyphs" fill="#1a1a1a" stroke="#1a1a1a" stroke-width="0.25">RISK34</text>
<text transform="translate(459.49,276.90) rotate(-90)" font-size="8.6" text-anchor="end" textLength="23.71" lengthAdjust="spacingAndGlyphs" fill="#1a1a1a" stroke="#1a1a1a" stroke-width="0.25">RISK35</text>
<text transform="translate(469.17,276.90) rotate(-90)" font-size="8.6" text-anchor="end" textLength="23.71" lengthAdjust="spacingAndGlyphs" fill="#1a1a1a" stroke="#1a1a1a" stroke-width="0.25">RISK36</text>
<text transform="translate(478.86,276.90) rotate(-90)" font-size="8.6" text-anchor="end" textLength="23.71" lengthAdjust="spacingAndGlyphs" fill="#1a1a1a" stroke="#1a1a1a" stroke-width="0.25">RISK37</text>
<text transform="translate(488.54,276.90) rotate(-90)" font-size="8.6" text-anchor="end" textLength="23.71" lengthAdjust="spacingAndGlyphs" fill="#1a1a1a" stroke="#1a1a1a" stroke-width="0.25">RISK38</text>
<text transform="translate(500.53,276.90) rotate(-90)" font-size="5.5" text-anchor="end" textLength="19.76" lengthAdjust="spacingAndGlyphs" fill="#1a1a1a" stroke="#1a1a1a" stroke-width="0.25">143-151</text>
<text transform="translate(498.23,297.46) rotate(-90)" font-size="8.6" text-anchor="end" textLength="32.32" lengthAdjust="spacingAndGlyphs" fill="#1a1a1a" stroke="#1a1a1a" stroke-width="0.25">MAGE-A4</text>
<text transform="translate(507.91,276.90) rotate(-90)" font-size="8.6" text-anchor="end" textLength="18.81" lengthAdjust="spacingAndGlyphs" fill="#1a1a1a" stroke="#1a1a1a" stroke-width="0.25">None</text>
<rect x="387.50" y="217.10" width="8.40" height="8.10" fill="#2b487f"/>
<rect x="387.50" y="231.50" width="8.40" height="8.10" fill="#a30029"/>
<text transform="translate(399.00,223.80)" font-size="8.1" text-anchor="start" textLength="23.30" lengthAdjust="spacingAndGlyphs" fill="#1a1a1a" stroke="#1a1a1a" stroke-width="0.25">Mock-T</text>
<text transform="translate(399.00,238.20)" font-size="8.1" text-anchor="start" textLength="19.00" lengthAdjust="spacingAndGlyphs" fill="#1a1a1a" stroke="#1a1a1a" stroke-width="0.25">CAR-T</text>
<text transform="translate(9.90,349.70)" font-size="11.2" text-anchor="start" textLength="7.68" lengthAdjust="spacingAndGlyphs" fill="#1a1a1a" stroke="#1a1a1a" stroke-width="0.25">D</text>
<line x1="39.80" y1="354.20" x2="39.80" y2="493.30" stroke="#1a1a1a" stroke-width="1.3"/>
<line x1="39.20" y1="492.70" x2="250.50" y2="492.70" stroke="#1a1a1a" stroke-width="1.2"/>
<line x1="36.40" y1="492.70" x2="39.80" y2="492.70" stroke="#1a1a1a" stroke-width="1.0"/>
<text transform="translate(33.20,495.40)" font-size="7.3" text-anchor="end" textLength="4.22" lengthAdjust="spacingAndGlyphs" fill="#1a1a1a" stroke="#1a1a1a" stroke-width="0.25">0</text>
<line x1="36.40" y1="473.30" x2="39.80" y2="473.30" stroke="#1a1a1a" stroke-width="1.0"/>
<text transform="translate(33.20,476.00)" font-size="7.3" text-anchor="end" textLength="4.22" lengthAdjust="spacingAndGlyphs" fill="#1a1a1a" stroke="#1a1a1a" stroke-width="0.25">1</text>
<line x1="36.40" y1="453.90" x2="39.80" y2="453.90" stroke="#1a1a1a" stroke-width="1.0"/>
<text transform="translate(33.20,456.60)" font-size="7.3" text-anchor="end" textLength="4.22" lengthAdjust="spacingAndGlyphs" fill="#1a1a1a" stroke="#1a1a1a" stroke-width="0.25">2</text>
<line x1="36.40" y1="434.50" x2="39.80" y2="434.50" stroke="#1a1a1a" stroke-width="1.0"/>
<text transform="translate(33.20,437.20)" font-size="7.3" text-anchor="end" textLength="4.22" lengthAdjust="spacingAndGlyphs" fill="#1a1a1a" stroke="#1a1a1a" stroke-width="0.25">3</text>
<line x1="36.40" y1="415.10" x2="39.80" y2="415.10" stroke="#1a1a1a" stroke-width="1.0"/>
<text transform="translate(33.20,417.80)" font-size="7.3" text-anchor="end" textLength="4.22" lengthAdjust="spacingAndGlyphs" fill="#1a1a1a" stroke="#1a1a1a" stroke-width="0.25">4</text>
<line x1="36.40" y1="395.70" x2="39.80" y2="395.70" stroke="#1a1a1a" stroke-width="1.0"/>
<text transform="translate(33.20,398.40)" font-size="7.3" text-anchor="end" textLength="4.22" lengthAdjust="spacingAndGlyphs" fill="#1a1a1a" stroke="#1a1a1a" stroke-width="0.25">5</text>
<line x1="36.40" y1="376.30" x2="39.80" y2="376.30" stroke="#1a1a1a" stroke-width="1.0"/>
<text transform="translate(33.20,379.00)" font-size="7.3" text-anchor="end" textLength="4.22" lengthAdjust="spacingAndGlyphs" fill="#1a1a1a" stroke="#1a1a1a" stroke-width="0.25">6</text>
<line x1="36.40" y1="356.90" x2="39.80" y2="356.90" stroke="#1a1a1a" stroke-width="1.0"/>
<text transform="translate(33.20,359.60)" font-size="7.3" text-anchor="end" textLength="4.22" lengthAdjust="spacingAndGlyphs" fill="#1a1a1a" stroke="#1a1a1a" stroke-width="0.25">7</text>
<line x1="39.80" y1="492.70" x2="39.80" y2="495.60" stroke="#1a1a1a" stroke-width="1.0"/>
<line x1="54.65" y1="492.70" x2="54.65" y2="495.60" stroke="#1a1a1a" stroke-width="1.0"/>
<line x1="69.50" y1="492.70" x2="69.50" y2="495.60" stroke="#1a1a1a" stroke-width="1.0"/>
<line x1="84.35" y1="492.70" x2="84.35" y2="495.60" stroke="#1a1a1a" stroke-width="1.0"/>
<line x1="99.20" y1="492.70" x2="99.20" y2="495.60" stroke="#1a1a1a" stroke-width="1.0"/>
<line x1="114.05" y1="492.70" x2="114.05" y2="495.60" stroke="#1a1a1a" stroke-width="1.0"/>
<line x1="128.90" y1="492.70" x2="128.90" y2="495.60" stroke="#1a1a1a" stroke-width="1.0"/>
<line x1="143.75" y1="492.70" x2="143.75" y2="495.60" stroke="#1a1a1a" stroke-width="1.0"/>
<line x1="158.60" y1="492.70" x2="158.60" y2="495.60" stroke="#1a1a1a" stroke-width="1.0"/>
<line x1="173.45" y1="492.70" x2="173.45" y2="495.60" stroke="#1a1a1a" stroke-width="1.0"/>
<line x1="188.30" y1="492.70" x2="188.30" y2="495.60" stroke="#1a1a1a" stroke-width="1.0"/>
<line x1="203.15" y1="492.70" x2="203.15" y2="495.60" stroke="#1a1a1a" stroke-width="1.0"/>
<line x1="218.00" y1="492.70" x2="218.00" y2="495.60" stroke="#1a1a1a" stroke-width="1.0"/>
<line x1="232.85" y1="492.70" x2="232.85" y2="495.60" stroke="#1a1a1a" stroke-width="1.0"/>
<line x1="247.70" y1="492.70" x2="247.70" y2="495.60" stroke="#1a1a1a" stroke-width="1.0"/>
<line x1="44.20" y1="374.36" x2="44.20" y2="384.06" stroke="#1a1a1a" stroke-width="0.9"/>
<line x1="42.70" y1="374.36" x2="45.70" y2="374.36" stroke="#1a1a1a" stroke-width="0.9"/>
<rect x="41.30" y="384.06" width="5.80" height="108.34" fill="#a30029"/>
<rect x="47.10" y="491.73" width="5.80" height="0.67" fill="#35425c"/>
<rect x="61.95" y="492.02" width="5.80" height="0.38" fill="#35425c"/>
<line x1="73.90" y1="491.25" x2="73.90" y2="492.02" stroke="#1a1a1a" stroke-width="0.9"/>
<line x1="72.40" y1="491.25" x2="75.40" y2="491.25" stroke="#1a1a1a" stroke-width="0.9"/>
<rect x="71.00" y="492.02" width="5.80" height="0.38" fill="#7d0a22"/>
<rect x="76.80" y="491.73" width="5.80" height="0.67" fill="#35425c"/>
<line x1="88.75" y1="491.25" x2="88.75" y2="492.02" stroke="#1a1a1a" stroke-width="0.9"/>
<line x1="87.25" y1="491.25" x2="90.25" y2="491.25" stroke="#1a1a1a" stroke-width="0.9"/>
<rect x="85.85" y="492.02" width="5.80" height="0.38" fill="#7d0a22"/>
<rect x="91.65" y="491.73" width="5.80" height="0.67" fill="#35425c"/>
<rect x="106.50" y="491.63" width="5.80" height="0.77" fill="#35425c"/>
<rect x="121.35" y="491.63" width="5.80" height="0.77" fill="#35425c"/>
<rect x="136.20" y="491.05" width="5.80" height="1.35" fill="#35425c"/>
<rect x="151.05" y="491.73" width="5.80" height="0.67" fill="#35425c"/>
<rect x="165.90" y="491.15" width="5.80" height="1.25" fill="#35425c"/>
<rect x="180.75" y="491.15" width="5.80" height="1.25" fill="#35425c"/>
<rect x="195.60" y="491.73" width="5.80" height="0.67" fill="#35425c"/>
<rect x="210.45" y="492.02" width="5.80" height="0.38" fill="#35425c"/>
<line x1="222.40" y1="491.25" x2="222.40" y2="492.02" stroke="#1a1a1a" stroke-width="0.9"/>
<line x1="220.90" y1="491.25" x2="223.90" y2="491.25" stroke="#1a1a1a" stroke-width="0.9"/>
<rect x="219.50" y="492.02" width="5.80" height="0.38" fill="#7d0a22"/>
<rect x="225.30" y="490.18" width="5.80" height="2.22" fill="#2b487f"/>
<rect x="240.15" y="492.12" width="5.80" height="0.28" fill="#35425c"/>
<text transform="translate(65.45,499.00) rotate(-90)" font-size="8.4" text-anchor="end" textLength="32.46" lengthAdjust="spacingAndGlyphs" fill="#1a1a1a" stroke="#1a1a1a" stroke-width="0.25">GM07345</text>
<text transform="translate(80.30,499.00) rotate(-90)" font-size="8.4" text-anchor="end" textLength="32.46" lengthAdjust="spacingAndGlyphs" fill="#1a1a1a" stroke="#1a1a1a" stroke-width="0.25">GM12813</text>
<text transform="translate(95.15,499.00) rotate(-90)" font-size="8.4" text-anchor="end" textLength="32.46" lengthAdjust="spacingAndGlyphs" fill="#1a1a1a" stroke="#1a1a1a" stroke-width="0.25">GM12874</text>
<text transform="translate(110.00,499.00) rotate(-90)" font-size="8.4" text-anchor="end" textLength="32.46" lengthAdjust="spacingAndGlyphs" fill="#1a1a1a" stroke="#1a1a1a" stroke-width="0.25">GM18552</text>
<text transform="translate(124.85,499.00) rotate(-90)" font-size="8.4" text-anchor="end" textLength="32.46" lengthAdjust="spacingAndGlyphs" fill="#1a1a1a" stroke="#1a1a1a" stroke-width="0.25">GM18555</text>
<text transform="translate(139.70,499.00) rotate(-90)" font-size="8.4" text-anchor="end" textLength="32.46" lengthAdjust="spacingAndGlyphs" fill="#1a1a1a" stroke="#1a1a1a" stroke-width="0.25">GM18612</text>
<text transform="translate(154.55,499.00) rotate(-90)" font-size="8.4" text-anchor="end" textLength="20.95" lengthAdjust="spacingAndGlyphs" fill="#1a1a1a" stroke="#1a1a1a" stroke-width="0.25">K-LCL</text>
<text transform="translate(169.40,499.00) rotate(-90)" font-size="8.4" text-anchor="end" textLength="14.38" lengthAdjust="spacingAndGlyphs" fill="#1a1a1a" stroke="#1a1a1a" stroke-width="0.25">ML3</text>
<text transform="translate(184.25,499.00) rotate(-90)" font-size="8.4" text-anchor="end" textLength="14.38" lengthAdjust="spacingAndGlyphs" fill="#1a1a1a" stroke="#1a1a1a" stroke-width="0.25">ML4</text>
<text transform="translate(199.10,499.00) rotate(-90)" font-size="8.4" text-anchor="end" textLength="14.38" lengthAdjust="spacingAndGlyphs" fill="#1a1a1a" stroke="#1a1a1a" stroke-width="0.25">ML6</text>
<text transform="translate(213.95,499.00) rotate(-90)" font-size="8.4" text-anchor="end" textLength="14.38" lengthAdjust="spacingAndGlyphs" fill="#1a1a1a" stroke="#1a1a1a" stroke-width="0.25">ML7</text>
<text transform="translate(228.80,499.00) rotate(-90)" font-size="8.4" text-anchor="end" textLength="18.49" lengthAdjust="spacingAndGlyphs" fill="#1a1a1a" stroke="#1a1a1a" stroke-width="0.25">ML16</text>
<text transform="translate(243.65,499.00) rotate(-90)" font-size="8.4" text-anchor="end" textLength="16.44" lengthAdjust="spacingAndGlyphs" fill="#1a1a1a" stroke="#1a1a1a" stroke-width="0.25">0826</text>
<text transform="translate(46.80,513.30) rotate(-90)" font-size="8.2" text-anchor="middle" textLength="26.00" lengthAdjust="spacingAndGlyphs" fill="#1a1a1a" stroke="#1a1a1a" stroke-width="0.25">Positive</text>
<text transform="translate(53.10,513.30) rotate(-90)" font-size="8.2" text-anchor="middle" textLength="14.30" lengthAdjust="spacingAndGlyphs" fill="#1a1a1a" stroke="#1a1a1a" stroke-width="0.25">cont</text>
<text transform="translate(22.70,450.00) rotate(-90)" font-size="8.7" text-anchor="start" textLength="53.50" lengthAdjust="spacingAndGlyphs" fill="#1a1a1a" stroke="#1a1a1a" stroke-width="0.25">IFN-γ (ng/ml)</text>
<rect x="163.80" y="436.90" width="8.30" height="8.10" fill="#2b487f"/>
<rect x="163.80" y="451.30" width="8.30" height="8.10" fill="#a30029"/>
<text transform="translate(175.20,443.60)" font-size="8.1" text-anchor="start" textLength="23.30" lengthAdjust="spacingAndGlyphs" fill="#1a1a1a" stroke="#1a1a1a" stroke-width="0.25">Mock-T</text>
<text transform="translate(175.20,457.90)" font-size="8.1" text-anchor="start" textLength="19.00" lengthAdjust="spacingAndGlyphs" fill="#1a1a1a" stroke="#1a1a1a" stroke-width="0.25">CAR-T</text>
<rect x="265.70" y="352.40" width="215.40" height="165.04" fill="#c9cadf"/>
<line x1="265.70" y1="352.40" x2="481.10" y2="352.40" stroke="#3c3c46" stroke-width="0.9"/>
<line x1="327.70" y1="364.40" x2="481.10" y2="364.40" stroke="#3c3c46" stroke-width="0.8"/>
<line x1="265.70" y1="375.35" x2="481.10" y2="375.35" stroke="#3c3c46" stroke-width="0.8"/>
<line x1="265.70" y1="386.28" x2="481.10" y2="386.28" stroke="#3c3c46" stroke-width="0.8"/>
<line x1="265.70" y1="397.21" x2="481.10" y2="397.21" stroke="#3c3c46" stroke-width="0.8"/>
<line x1="265.70" y1="408.14" x2="481.10" y2="408.14" stroke="#3c3c46" stroke-width="0.8"/>
<line x1="265.70" y1="419.07" x2="481.10" y2="419.07" stroke="#3c3c46" stroke-width="0.8"/>
<line x1="265.70" y1="430.00" x2="481.10" y2="430.00" stroke="#3c3c46" stroke-width="0.8"/>
<line x1="265.70" y1="440.93" x2="481.10" y2="440.93" stroke="#3c3c46" stroke-width="0.8"/>
<line x1="265.70" y1="451.86" x2="481.10" y2="451.86" stroke="#3c3c46" stroke-width="0.8"/>
<line x1="265.70" y1="462.79" x2="481.10" y2="462.79" stroke="#3c3c46" stroke-width="0.8"/>
<line x1="265.70" y1="473.72" x2="481.10" y2="473.72" stroke="#3c3c46" stroke-width="0.8"/>
<line x1="265.70" y1="484.65" x2="481.10" y2="484.65" stroke="#3c3c46" stroke-width="0.8"/>
<line x1="265.70" y1="495.58" x2="481.10" y2="495.58" stroke="#3c3c46" stroke-width="0.8"/>
<line x1="265.70" y1="506.51" x2="481.10" y2="506.51" stroke="#3c3c46" stroke-width="0.8"/>
<line x1="265.70" y1="517.44" x2="481.10" y2="517.44" stroke="#3c3c46" stroke-width="1.0"/>
<line x1="265.70" y1="352.40" x2="265.70" y2="517.44" stroke="#3c3c46" stroke-width="1.2"/>
<line x1="290.00" y1="352.40" x2="290.00" y2="517.44" stroke="#3c3c46" stroke-width="1.2"/>
<line x1="327.70" y1="352.40" x2="327.70" y2="517.44" stroke="#3c3c46" stroke-width="1.2"/>
<line x1="353.40" y1="364.40" x2="353.40" y2="517.44" stroke="#3c3c46" stroke-width="0.8"/>
<line x1="378.90" y1="352.40" x2="378.90" y2="517.44" stroke="#3c3c46" stroke-width="1.2"/>
<line x1="404.60" y1="364.40" x2="404.60" y2="517.44" stroke="#3c3c46" stroke-width="0.8"/>
<line x1="430.30" y1="352.40" x2="430.30" y2="517.44" stroke="#3c3c46" stroke-width="1.2"/>
<line x1="455.50" y1="364.40" x2="455.50" y2="517.44" stroke="#3c3c46" stroke-width="0.8"/>
<line x1="481.10" y1="352.40" x2="481.10" y2="517.44" stroke="#3c3c46" stroke-width="1.2"/>
<text transform="translate(277.85,366.40)" font-size="7.3" text-anchor="middle" textLength="16.75" lengthAdjust="spacingAndGlyphs" fill="#1a1a1a" stroke="#1a1a1a" stroke-width="0.15">ACC#</text>
<text transform="translate(308.85,366.40)" font-size="7.3" text-anchor="middle" textLength="26.84" lengthAdjust="spacingAndGlyphs" fill="#1a1a1a" stroke="#1a1a1a" stroke-width="0.15">Cell Line</text>
<text transform="translate(353.30,360.80)" font-size="7.3" text-anchor="middle" textLength="20.86" lengthAdjust="spacingAndGlyphs" fill="#1a1a1a" stroke="#1a1a1a" stroke-width="0.15">HLA-A</text>
<text transform="translate(404.60,360.80)" font-size="7.3" text-anchor="middle" textLength="20.86" lengthAdjust="spacingAndGlyphs" fill="#1a1a1a" stroke="#1a1a1a" stroke-width="0.15">HLA-B</text>
<text transform="translate(455.70,360.80)" font-size="7.3" text-anchor="middle" textLength="21.25" lengthAdjust="spacingAndGlyphs" fill="#1a1a1a" stroke="#1a1a1a" stroke-width="0.15">HLA-C</text>
<text transform="translate(340.55,372.30)" font-size="7.3" text-anchor="middle" textLength="8.48" lengthAdjust="spacingAndGlyphs" fill="#1a1a1a" stroke="#1a1a1a" stroke-width="0.15">A1</text>
<text transform="translate(366.15,372.30)" font-size="7.3" text-anchor="middle" textLength="8.48" lengthAdjust="spacingAndGlyphs" fill="#1a1a1a" stroke="#1a1a1a" stroke-width="0.15">A2</text>
<text transform="translate(391.75,372.30)" font-size="7.3" text-anchor="middle" textLength="8.48" lengthAdjust="spacingAndGlyphs" fill="#1a1a1a" stroke="#1a1a1a" stroke-width="0.15">B1</text>
<text transform="translate(417.45,372.30)" font-size="7.3" text-anchor="middle" textLength="8.48" lengthAdjust="spacingAndGlyphs" fill="#1a1a1a" stroke="#1a1a1a" stroke-width="0.15">B2</text>
<text transform="translate(442.90,372.30)" font-size="7.3" text-anchor="middle" textLength="8.87" lengthAdjust="spacingAndGlyphs" fill="#1a1a1a" stroke="#1a1a1a" stroke-width="0.15">C1</text>
<text transform="translate(468.30,372.30)" font-size="7.3" text-anchor="middle" textLength="8.87" lengthAdjust="spacingAndGlyphs" fill="#1a1a1a" stroke="#1a1a1a" stroke-width="0.15">C2</text>
<text transform="translate(277.85,383.35)" font-size="7.3" text-anchor="middle" textLength="16.40" lengthAdjust="spacingAndGlyphs" fill="#1a1a1a" stroke="#1a1a1a" stroke-width="0.15">C102</text>
<text transform="translate(308.85,383.35)" font-size="7.3" text-anchor="middle" textLength="30.14" lengthAdjust="spacingAndGlyphs" fill="#1a1a1a" stroke="#1a1a1a" stroke-width="0.15">GM07345</text>
<text transform="translate(340.55,383.35)" font-size="7.3" text-anchor="middle" textLength="14.86" lengthAdjust="spacingAndGlyphs" fill="#1a1a1a" stroke="#1a1a1a" stroke-width="0.15">0101</text>
<text transform="translate(366.15,383.35)" font-size="7.3" text-anchor="middle" textLength="14.86" lengthAdjust="spacingAndGlyphs" fill="#1a1a1a" stroke="#1a1a1a" stroke-width="0.15">0201</text>
<text transform="translate(391.75,383.35)" font-size="7.3" text-anchor="middle" textLength="14.86" lengthAdjust="spacingAndGlyphs" fill="#1a1a1a" stroke="#1a1a1a" stroke-width="0.15">4402</text>
<text transform="translate(417.45,383.35)" font-size="7.3" text-anchor="middle" textLength="14.86" lengthAdjust="spacingAndGlyphs" fill="#1a1a1a" stroke="#1a1a1a" stroke-width="0.15">5701</text>
<text transform="translate(442.90,383.35)" font-size="7.3" text-anchor="middle" textLength="14.86" lengthAdjust="spacingAndGlyphs" fill="#1a1a1a" stroke="#1a1a1a" stroke-width="0.15">0501</text>
<text transform="translate(468.30,383.35)" font-size="7.3" text-anchor="middle" textLength="14.86" lengthAdjust="spacingAndGlyphs" fill="#1a1a1a" stroke="#1a1a1a" stroke-width="0.15">0602</text>
<text transform="translate(277.85,394.28)" font-size="7.3" text-anchor="middle" textLength="16.40" lengthAdjust="spacingAndGlyphs" fill="#1a1a1a" stroke="#1a1a1a" stroke-width="0.15">C169</text>
<text transform="translate(308.85,394.28)" font-size="7.3" text-anchor="middle" textLength="30.14" lengthAdjust="spacingAndGlyphs" fill="#1a1a1a" stroke="#1a1a1a" stroke-width="0.15">GM12813</text>
<text transform="translate(340.55,394.28)" font-size="7.3" text-anchor="middle" textLength="14.86" lengthAdjust="spacingAndGlyphs" fill="#1a1a1a" stroke="#1a1a1a" stroke-width="0.15">2402</text>
<text transform="translate(366.15,394.28)" font-size="7.3" text-anchor="middle" textLength="14.86" lengthAdjust="spacingAndGlyphs" fill="#1a1a1a" stroke="#1a1a1a" stroke-width="0.15">2901</text>
<text transform="translate(391.75,394.28)" font-size="7.3" text-anchor="middle" textLength="14.86" lengthAdjust="spacingAndGlyphs" fill="#1a1a1a" stroke="#1a1a1a" stroke-width="0.15">4403</text>
<text transform="translate(417.45,394.28)" font-size="7.3" text-anchor="middle" textLength="14.86" lengthAdjust="spacingAndGlyphs" fill="#1a1a1a" stroke="#1a1a1a" stroke-width="0.15">5701</text>
<text transform="translate(442.90,394.28)" font-size="7.3" text-anchor="middle" textLength="14.86" lengthAdjust="spacingAndGlyphs" fill="#1a1a1a" stroke="#1a1a1a" stroke-width="0.15">0602</text>
<text transform="translate(468.30,394.28)" font-size="7.3" text-anchor="middle" textLength="14.86" lengthAdjust="spacingAndGlyphs" fill="#1a1a1a" stroke="#1a1a1a" stroke-width="0.15">1601</text>
<text transform="translate(277.85,405.21)" font-size="7.3" text-anchor="middle" textLength="16.40" lengthAdjust="spacingAndGlyphs" fill="#1a1a1a" stroke="#1a1a1a" stroke-width="0.15">C176</text>
<text transform="translate(308.85,405.21)" font-size="7.3" text-anchor="middle" textLength="30.14" lengthAdjust="spacingAndGlyphs" fill="#1a1a1a" stroke="#1a1a1a" stroke-width="0.15">GM12874</text>
<text transform="translate(340.55,405.21)" font-size="7.3" text-anchor="middle" textLength="14.86" lengthAdjust="spacingAndGlyphs" fill="#1a1a1a" stroke="#1a1a1a" stroke-width="0.15">0201</text>
<text transform="translate(366.15,405.21)" font-size="7.3" text-anchor="middle" textLength="14.86" lengthAdjust="spacingAndGlyphs" fill="#1a1a1a" stroke="#1a1a1a" stroke-width="0.15">2402</text>
<text transform="translate(391.75,405.21)" font-size="7.3" text-anchor="middle" textLength="14.86" lengthAdjust="spacingAndGlyphs" fill="#1a1a1a" stroke="#1a1a1a" stroke-width="0.15">3501</text>
<text transform="translate(417.45,405.21)" font-size="7.3" text-anchor="middle" textLength="14.86" lengthAdjust="spacingAndGlyphs" fill="#1a1a1a" stroke="#1a1a1a" stroke-width="0.15">5101</text>
<text transform="translate(442.90,405.21)" font-size="7.3" text-anchor="middle" textLength="14.86" lengthAdjust="spacingAndGlyphs" fill="#1a1a1a" stroke="#1a1a1a" stroke-width="0.15">0401</text>
<text transform="translate(468.30,405.21)" font-size="7.3" text-anchor="middle" textLength="14.86" lengthAdjust="spacingAndGlyphs" fill="#1a1a1a" stroke="#1a1a1a" stroke-width="0.15">1402</text>
<text transform="translate(277.85,416.14)" font-size="7.3" text-anchor="middle" textLength="12.59" lengthAdjust="spacingAndGlyphs" fill="#1a1a1a" stroke="#1a1a1a" stroke-width="0.15">H56</text>
<text transform="translate(308.85,416.14)" font-size="7.3" text-anchor="middle" textLength="30.14" lengthAdjust="spacingAndGlyphs" fill="#1a1a1a" stroke="#1a1a1a" stroke-width="0.15">GM18552</text>
<text transform="translate(340.55,416.14)" font-size="7.3" text-anchor="middle" textLength="14.86" lengthAdjust="spacingAndGlyphs" fill="#1a1a1a" stroke="#1a1a1a" stroke-width="0.15">0207</text>
<text transform="translate(366.15,416.14)" font-size="7.3" text-anchor="middle" textLength="14.36" lengthAdjust="spacingAndGlyphs" fill="#1a1a1a" stroke="#1a1a1a" stroke-width="0.15">1101</text>
<text transform="translate(391.75,416.14)" font-size="7.3" text-anchor="middle" textLength="14.86" lengthAdjust="spacingAndGlyphs" fill="#1a1a1a" stroke="#1a1a1a" stroke-width="0.15">4002</text>
<text transform="translate(417.45,416.14)" font-size="7.3" text-anchor="middle" textLength="14.86" lengthAdjust="spacingAndGlyphs" fill="#1a1a1a" stroke="#1a1a1a" stroke-width="0.15">4601</text>
<text transform="translate(442.90,416.14)" font-size="7.3" text-anchor="middle" textLength="14.86" lengthAdjust="spacingAndGlyphs" fill="#1a1a1a" stroke="#1a1a1a" stroke-width="0.15">0102</text>
<text transform="translate(468.30,416.14)" font-size="7.3" text-anchor="middle" textLength="14.86" lengthAdjust="spacingAndGlyphs" fill="#1a1a1a" stroke="#1a1a1a" stroke-width="0.15">1502</text>
<text transform="translate(277.85,427.07)" font-size="7.3" text-anchor="middle" textLength="12.59" lengthAdjust="spacingAndGlyphs" fill="#1a1a1a" stroke="#1a1a1a" stroke-width="0.15">H57</text>
<text transform="translate(308.85,427.07)" font-size="7.3" text-anchor="middle" textLength="30.14" lengthAdjust="spacingAndGlyphs" fill="#1a1a1a" stroke="#1a1a1a" stroke-width="0.15">GM18555</text>
<text transform="translate(340.55,427.07)" font-size="7.3" text-anchor="middle" textLength="14.86" lengthAdjust="spacingAndGlyphs" fill="#1a1a1a" stroke="#1a1a1a" stroke-width="0.15">0206</text>
<text transform="translate(366.15,427.07)" font-size="7.3" text-anchor="middle" textLength="14.36" lengthAdjust="spacingAndGlyphs" fill="#1a1a1a" stroke="#1a1a1a" stroke-width="0.15">1101</text>
<text transform="translate(391.75,427.07)" font-size="7.3" text-anchor="middle" textLength="14.86" lengthAdjust="spacingAndGlyphs" fill="#1a1a1a" stroke="#1a1a1a" stroke-width="0.15">0705</text>
<text transform="translate(417.45,427.07)" font-size="7.3" text-anchor="middle" textLength="14.86" lengthAdjust="spacingAndGlyphs" fill="#1a1a1a" stroke="#1a1a1a" stroke-width="0.15">5401</text>
<text transform="translate(442.90,427.07)" font-size="7.3" text-anchor="middle" textLength="14.86" lengthAdjust="spacingAndGlyphs" fill="#1a1a1a" stroke="#1a1a1a" stroke-width="0.15">0102</text>
<text transform="translate(468.30,427.07)" font-size="7.3" text-anchor="middle" textLength="14.86" lengthAdjust="spacingAndGlyphs" fill="#1a1a1a" stroke="#1a1a1a" stroke-width="0.15">0702</text>
<text transform="translate(277.85,438.00)" font-size="7.3" text-anchor="middle" textLength="12.59" lengthAdjust="spacingAndGlyphs" fill="#1a1a1a" stroke="#1a1a1a" stroke-width="0.15">H80</text>
<text transform="translate(308.85,438.00)" font-size="7.3" text-anchor="middle" textLength="30.14" lengthAdjust="spacingAndGlyphs" fill="#1a1a1a" stroke="#1a1a1a" stroke-width="0.15">GM18612</text>
<text transform="translate(340.55,438.00)" font-size="7.3" text-anchor="middle" textLength="14.86" lengthAdjust="spacingAndGlyphs" fill="#1a1a1a" stroke="#1a1a1a" stroke-width="0.15">0101</text>
<text transform="translate(366.15,438.00)" font-size="7.3" text-anchor="middle" textLength="14.86" lengthAdjust="spacingAndGlyphs" fill="#1a1a1a" stroke="#1a1a1a" stroke-width="0.15">0206</text>
<text transform="translate(391.75,438.00)" font-size="7.3" text-anchor="middle" textLength="14.86" lengthAdjust="spacingAndGlyphs" fill="#1a1a1a" stroke="#1a1a1a" stroke-width="0.15">4006</text>
<text transform="translate(417.45,438.00)" font-size="7.3" text-anchor="middle" textLength="14.86" lengthAdjust="spacingAndGlyphs" fill="#1a1a1a" stroke="#1a1a1a" stroke-width="0.15">5701</text>
<text transform="translate(442.90,438.00)" font-size="7.3" text-anchor="middle" textLength="14.86" lengthAdjust="spacingAndGlyphs" fill="#1a1a1a" stroke="#1a1a1a" stroke-width="0.15">0602</text>
<text transform="translate(468.30,438.00)" font-size="7.3" text-anchor="middle" textLength="14.86" lengthAdjust="spacingAndGlyphs" fill="#1a1a1a" stroke="#1a1a1a" stroke-width="0.15">0801</text>
<text transform="translate(277.85,448.93)" font-size="7.3" text-anchor="middle" textLength="9.53" lengthAdjust="spacingAndGlyphs" fill="#1a1a1a" stroke="#1a1a1a" stroke-width="0.15">NA</text>
<text transform="translate(308.85,448.93)" font-size="7.3" text-anchor="middle" textLength="19.45" lengthAdjust="spacingAndGlyphs" fill="#1a1a1a" stroke="#1a1a1a" stroke-width="0.15">K-LCL</text>
<text transform="translate(340.55,448.93)" font-size="7.3" text-anchor="middle" textLength="9.91" lengthAdjust="spacingAndGlyphs" fill="#1a1a1a" stroke="#1a1a1a" stroke-width="0.15">ND</text>
<text transform="translate(366.15,448.93)" font-size="7.3" text-anchor="middle" textLength="9.91" lengthAdjust="spacingAndGlyphs" fill="#1a1a1a" stroke="#1a1a1a" stroke-width="0.15">ND</text>
<text transform="translate(391.75,448.93)" font-size="7.3" text-anchor="middle" textLength="14.86" lengthAdjust="spacingAndGlyphs" fill="#1a1a1a" stroke="#1a1a1a" stroke-width="0.15">5701</text>
<text transform="translate(417.45,448.93)" font-size="7.3" text-anchor="middle" textLength="9.91" lengthAdjust="spacingAndGlyphs" fill="#1a1a1a" stroke="#1a1a1a" stroke-width="0.15">ND</text>
<text transform="translate(442.90,448.93)" font-size="7.3" text-anchor="middle" textLength="9.91" lengthAdjust="spacingAndGlyphs" fill="#1a1a1a" stroke="#1a1a1a" stroke-width="0.15">ND</text>
<text transform="translate(468.30,448.93)" font-size="7.3" text-anchor="middle" textLength="9.91" lengthAdjust="spacingAndGlyphs" fill="#1a1a1a" stroke="#1a1a1a" stroke-width="0.15">ND</text>
<text transform="translate(277.85,459.86)" font-size="7.3" text-anchor="middle" textLength="9.53" lengthAdjust="spacingAndGlyphs" fill="#1a1a1a" stroke="#1a1a1a" stroke-width="0.15">NA</text>
<text transform="translate(308.85,459.86)" font-size="7.3" text-anchor="middle" textLength="13.35" lengthAdjust="spacingAndGlyphs" fill="#1a1a1a" stroke="#1a1a1a" stroke-width="0.15">ML3</text>
<text transform="translate(340.55,459.86)" font-size="7.3" text-anchor="middle" textLength="14.86" lengthAdjust="spacingAndGlyphs" fill="#1a1a1a" stroke="#1a1a1a" stroke-width="0.15">0207</text>
<text transform="translate(366.15,459.86)" font-size="7.3" text-anchor="middle" textLength="14.86" lengthAdjust="spacingAndGlyphs" fill="#1a1a1a" stroke="#1a1a1a" stroke-width="0.15">3101</text>
<text transform="translate(391.75,459.86)" font-size="7.3" text-anchor="middle" textLength="14.86" lengthAdjust="spacingAndGlyphs" fill="#1a1a1a" stroke="#1a1a1a" stroke-width="0.15">3501</text>
<text transform="translate(417.45,459.86)" font-size="7.3" text-anchor="middle" textLength="14.86" lengthAdjust="spacingAndGlyphs" fill="#1a1a1a" stroke="#1a1a1a" stroke-width="0.15">4601</text>
<text transform="translate(442.90,459.86)" font-size="7.3" text-anchor="middle" textLength="14.86" lengthAdjust="spacingAndGlyphs" fill="#1a1a1a" stroke="#1a1a1a" stroke-width="0.15">0102</text>
<text transform="translate(468.30,459.86)" font-size="7.3" text-anchor="middle" textLength="14.86" lengthAdjust="spacingAndGlyphs" fill="#1a1a1a" stroke="#1a1a1a" stroke-width="0.15">0303</text>
<text transform="translate(277.85,470.79)" font-size="7.3" text-anchor="middle" textLength="9.53" lengthAdjust="spacingAndGlyphs" fill="#1a1a1a" stroke="#1a1a1a" stroke-width="0.15">NA</text>
<text transform="translate(308.85,470.79)" font-size="7.3" text-anchor="middle" textLength="13.35" lengthAdjust="spacingAndGlyphs" fill="#1a1a1a" stroke="#1a1a1a" stroke-width="0.15">ML4</text>
<text transform="translate(340.55,470.79)" font-size="7.3" text-anchor="middle" textLength="14.86" lengthAdjust="spacingAndGlyphs" fill="#1a1a1a" stroke="#1a1a1a" stroke-width="0.15">0101</text>
<text transform="translate(366.15,470.79)" font-size="7.3" text-anchor="middle" textLength="14.86" lengthAdjust="spacingAndGlyphs" fill="#1a1a1a" stroke="#1a1a1a" stroke-width="0.15">0201</text>
<text transform="translate(391.75,470.79)" font-size="7.3" text-anchor="middle" textLength="9.91" lengthAdjust="spacingAndGlyphs" fill="#1a1a1a" stroke="#1a1a1a" stroke-width="0.15">ND</text>
<text transform="translate(417.45,470.79)" font-size="7.3" text-anchor="middle" textLength="14.86" lengthAdjust="spacingAndGlyphs" fill="#1a1a1a" stroke="#1a1a1a" stroke-width="0.15">3701</text>
<text transform="translate(442.90,470.79)" font-size="7.3" text-anchor="middle" textLength="14.86" lengthAdjust="spacingAndGlyphs" fill="#1a1a1a" stroke="#1a1a1a" stroke-width="0.15">0602</text>
<text transform="translate(468.30,470.79)" font-size="7.3" text-anchor="middle" textLength="9.91" lengthAdjust="spacingAndGlyphs" fill="#1a1a1a" stroke="#1a1a1a" stroke-width="0.15">ND</text>
<text transform="translate(277.85,481.72)" font-size="7.3" text-anchor="middle" textLength="9.53" lengthAdjust="spacingAndGlyphs" fill="#1a1a1a" stroke="#1a1a1a" stroke-width="0.15">NA</text>
<text transform="translate(308.85,481.72)" font-size="7.3" text-anchor="middle" textLength="13.35" lengthAdjust="spacingAndGlyphs" fill="#1a1a1a" stroke="#1a1a1a" stroke-width="0.15">ML6</text>
<text transform="translate(340.55,481.72)" font-size="7.3" text-anchor="middle" textLength="14.36" lengthAdjust="spacingAndGlyphs" fill="#1a1a1a" stroke="#1a1a1a" stroke-width="0.15">1101</text>
<text transform="translate(366.15,481.72)" font-size="7.3" text-anchor="middle" textLength="14.86" lengthAdjust="spacingAndGlyphs" fill="#1a1a1a" stroke="#1a1a1a" stroke-width="0.15">3101</text>
<text transform="translate(391.75,481.72)" font-size="7.3" text-anchor="middle" textLength="14.86" lengthAdjust="spacingAndGlyphs" fill="#1a1a1a" stroke="#1a1a1a" stroke-width="0.15">5101</text>
<text transform="translate(417.45,481.72)" font-size="7.3" text-anchor="middle" textLength="14.86" lengthAdjust="spacingAndGlyphs" fill="#1a1a1a" stroke="#1a1a1a" stroke-width="0.15">5502</text>
<text transform="translate(442.90,481.72)" font-size="7.3" text-anchor="middle" textLength="14.86" lengthAdjust="spacingAndGlyphs" fill="#1a1a1a" stroke="#1a1a1a" stroke-width="0.15">0102</text>
<text transform="translate(468.30,481.72)" font-size="7.3" text-anchor="middle" textLength="14.86" lengthAdjust="spacingAndGlyphs" fill="#1a1a1a" stroke="#1a1a1a" stroke-width="0.15">1402</text>
<text transform="translate(277.85,492.65)" font-size="7.3" text-anchor="middle" textLength="9.53" lengthAdjust="spacingAndGlyphs" fill="#1a1a1a" stroke="#1a1a1a" stroke-width="0.15">NA</text>
<text transform="translate(308.85,492.65)" font-size="7.3" text-anchor="middle" textLength="13.35" lengthAdjust="spacingAndGlyphs" fill="#1a1a1a" stroke="#1a1a1a" stroke-width="0.15">ML7</text>
<text transform="translate(340.55,492.65)" font-size="7.3" text-anchor="middle" textLength="14.86" lengthAdjust="spacingAndGlyphs" fill="#1a1a1a" stroke="#1a1a1a" stroke-width="0.15">2402</text>
<text transform="translate(366.15,492.65)" font-size="7.3" text-anchor="middle" textLength="14.86" lengthAdjust="spacingAndGlyphs" fill="#1a1a1a" stroke="#1a1a1a" stroke-width="0.15">2402</text>
<text transform="translate(391.75,492.65)" font-size="7.3" text-anchor="middle" textLength="14.86" lengthAdjust="spacingAndGlyphs" fill="#1a1a1a" stroke="#1a1a1a" stroke-width="0.15">5201</text>
<text transform="translate(417.45,492.65)" font-size="7.3" text-anchor="middle" textLength="14.86" lengthAdjust="spacingAndGlyphs" fill="#1a1a1a" stroke="#1a1a1a" stroke-width="0.15">5201</text>
<text transform="translate(442.90,492.65)" font-size="7.3" text-anchor="middle" textLength="14.86" lengthAdjust="spacingAndGlyphs" fill="#1a1a1a" stroke="#1a1a1a" stroke-width="0.15">1202</text>
<text transform="translate(468.30,492.65)" font-size="7.3" text-anchor="middle" textLength="14.86" lengthAdjust="spacingAndGlyphs" fill="#1a1a1a" stroke="#1a1a1a" stroke-width="0.15">1202</text>
<text transform="translate(277.85,503.58)" font-size="7.3" text-anchor="middle" textLength="9.53" lengthAdjust="spacingAndGlyphs" fill="#1a1a1a" stroke="#1a1a1a" stroke-width="0.15">NA</text>
<text transform="translate(308.85,503.58)" font-size="7.3" text-anchor="middle" textLength="17.17" lengthAdjust="spacingAndGlyphs" fill="#1a1a1a" stroke="#1a1a1a" stroke-width="0.15">ML16</text>
<text transform="translate(340.55,503.58)" font-size="7.3" text-anchor="middle" textLength="14.86" lengthAdjust="spacingAndGlyphs" fill="#1a1a1a" stroke="#1a1a1a" stroke-width="0.15">0201</text>
<text transform="translate(366.15,503.58)" font-size="7.3" text-anchor="middle" textLength="14.86" lengthAdjust="spacingAndGlyphs" fill="#1a1a1a" stroke="#1a1a1a" stroke-width="0.15">3303</text>
<text transform="translate(391.75,503.58)" font-size="7.3" text-anchor="middle" textLength="14.86" lengthAdjust="spacingAndGlyphs" fill="#1a1a1a" stroke="#1a1a1a" stroke-width="0.15">3501</text>
<text transform="translate(417.45,503.58)" font-size="7.3" text-anchor="middle" textLength="14.86" lengthAdjust="spacingAndGlyphs" fill="#1a1a1a" stroke="#1a1a1a" stroke-width="0.15">3501</text>
<text transform="translate(442.90,503.58)" font-size="7.3" text-anchor="middle" textLength="14.86" lengthAdjust="spacingAndGlyphs" fill="#1a1a1a" stroke="#1a1a1a" stroke-width="0.15">0303</text>
<text transform="translate(468.30,503.58)" font-size="7.3" text-anchor="middle" textLength="14.86" lengthAdjust="spacingAndGlyphs" fill="#1a1a1a" stroke="#1a1a1a" stroke-width="0.15">0801</text>
<text transform="translate(277.85,514.51)" font-size="7.3" text-anchor="middle" textLength="9.53" lengthAdjust="spacingAndGlyphs" fill="#1a1a1a" stroke="#1a1a1a" stroke-width="0.15">NA</text>
<text transform="translate(308.85,514.51)" font-size="7.3" text-anchor="middle" textLength="14.86" lengthAdjust="spacingAndGlyphs" fill="#1a1a1a" stroke="#1a1a1a" stroke-width="0.15">0826</text>
<text transform="translate(340.55,514.51)" font-size="7.3" text-anchor="middle" textLength="14.36" lengthAdjust="spacingAndGlyphs" fill="#1a1a1a" stroke="#1a1a1a" stroke-width="0.15">1101</text>
<text transform="translate(366.15,514.51)" font-size="7.3" text-anchor="middle" textLength="14.86" lengthAdjust="spacingAndGlyphs" fill="#1a1a1a" stroke="#1a1a1a" stroke-width="0.15">2603</text>
<text transform="translate(391.75,514.51)" font-size="7.3" text-anchor="middle" textLength="14.86" lengthAdjust="spacingAndGlyphs" fill="#1a1a1a" stroke="#1a1a1a" stroke-width="0.15">1501</text>
<text transform="translate(417.45,514.51)" font-size="7.3" text-anchor="middle" textLength="14.86" lengthAdjust="spacingAndGlyphs" fill="#1a1a1a" stroke="#1a1a1a" stroke-width="0.15">3501</text>
<text transform="translate(442.90,514.51)" font-size="7.3" text-anchor="middle" textLength="14.86" lengthAdjust="spacingAndGlyphs" fill="#1a1a1a" stroke="#1a1a1a" stroke-width="0.15">0303</text>
<text transform="translate(468.30,514.51)" font-size="7.3" text-anchor="middle" textLength="14.86" lengthAdjust="spacingAndGlyphs" fill="#1a1a1a" stroke="#1a1a1a" stroke-width="0.15">0401</text>
<text transform="translate(271.00,527.50)" font-size="7.2" text-anchor="start" textLength="59.80" lengthAdjust="spacingAndGlyphs" fill="#1a1a1a" stroke="#1a1a1a" stroke-width="0.25">NA: Not applicable</text>
<text transform="translate(271.00,536.50)" font-size="7.2" text-anchor="start" textLength="64.10" lengthAdjust="spacingAndGlyphs" fill="#1a1a1a" stroke="#1a1a1a" stroke-width="0.25">ND: Not determined</text>
</svg>
</body></html>
